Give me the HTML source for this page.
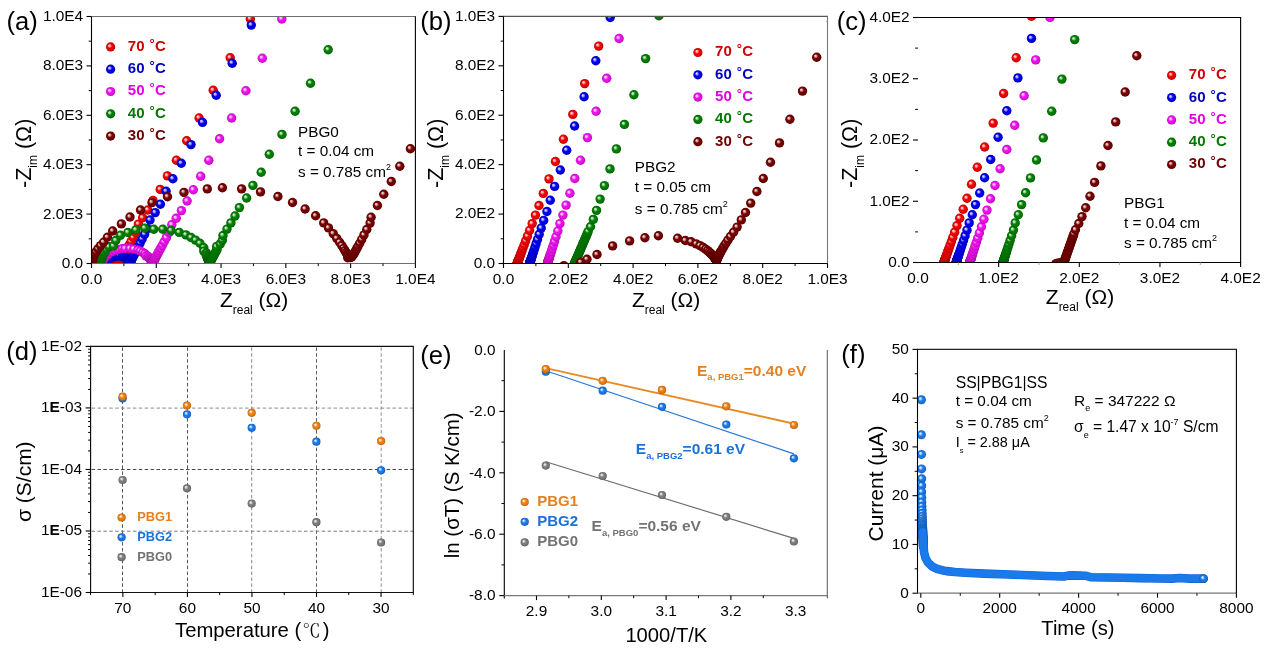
<!DOCTYPE html>
<html><head><meta charset="utf-8"><title>Figure</title>
<style>html,body{margin:0;padding:0;background:#fff;}svg{display:block;}text{font-family:'Liberation Sans',Arial,sans-serif;}</style>
</head><body>
<svg width="1269" height="648" viewBox="0 0 1269 648">
<defs><radialGradient id="gr" cx="0.5" cy="0.5" r="0.5" fx="0.34" fy="0.33"><stop offset="0" stop-color="#fef2f2"/><stop offset="0.24" stop-color="#fb9999"/><stop offset="0.48" stop-color="#f40000"/><stop offset="0.8" stop-color="#e50000"/><stop offset="1" stop-color="#ab0000"/></radialGradient><radialGradient id="gb" cx="0.5" cy="0.5" r="0.5" fx="0.34" fy="0.33"><stop offset="0" stop-color="#f2f2fe"/><stop offset="0.24" stop-color="#9999f9"/><stop offset="0.48" stop-color="#0000f0"/><stop offset="0.8" stop-color="#0000e2"/><stop offset="1" stop-color="#0000a8"/></radialGradient><radialGradient id="gm" cx="0.5" cy="0.5" r="0.5" fx="0.34" fy="0.33"><stop offset="0" stop-color="#fef3fe"/><stop offset="0.24" stop-color="#f99ff9"/><stop offset="0.48" stop-color="#f010f0"/><stop offset="0.8" stop-color="#e20fe2"/><stop offset="1" stop-color="#a80ba8"/></radialGradient><radialGradient id="gg" cx="0.5" cy="0.5" r="0.5" fx="0.34" fy="0.33"><stop offset="0" stop-color="#f2f9f2"/><stop offset="0.24" stop-color="#99cc99"/><stop offset="0.48" stop-color="#008000"/><stop offset="0.8" stop-color="#007800"/><stop offset="1" stop-color="#005a00"/></radialGradient><radialGradient id="gd" cx="0.5" cy="0.5" r="0.5" fx="0.34" fy="0.33"><stop offset="0" stop-color="#f8f2f2"/><stop offset="0.24" stop-color="#c99999"/><stop offset="0.48" stop-color="#780000"/><stop offset="0.8" stop-color="#710000"/><stop offset="1" stop-color="#540000"/></radialGradient><radialGradient id="go" cx="0.5" cy="0.5" r="0.5" fx="0.34" fy="0.33"><stop offset="0" stop-color="#fef9f3"/><stop offset="0.24" stop-color="#f9cc9f"/><stop offset="0.48" stop-color="#f08010"/><stop offset="0.8" stop-color="#e2780f"/><stop offset="1" stop-color="#a85a0b"/></radialGradient><radialGradient id="gu" cx="0.5" cy="0.5" r="0.5" fx="0.34" fy="0.33"><stop offset="0" stop-color="#f4f8fe"/><stop offset="0.24" stop-color="#a3caf7"/><stop offset="0.48" stop-color="#1a7aec"/><stop offset="0.8" stop-color="#1873de"/><stop offset="1" stop-color="#1255a5"/></radialGradient><radialGradient id="gy" cx="0.5" cy="0.5" r="0.5" fx="0.34" fy="0.33"><stop offset="0" stop-color="#f9f9f9"/><stop offset="0.24" stop-color="#cbcbcb"/><stop offset="0.48" stop-color="#7e7e7e"/><stop offset="0.8" stop-color="#767676"/><stop offset="1" stop-color="#585858"/></radialGradient><clipPath id="cA"><rect x="91.5" y="16.5" width="323.9" height="247"/></clipPath><clipPath id="cB"><rect x="503.5" y="16.4" width="324" height="247.1"/></clipPath><clipPath id="cC"><rect x="918" y="17.5" width="322.6" height="245"/></clipPath><clipPath id="cF"><rect x="917.5" y="349.4" width="318.9" height="243.8"/></clipPath></defs>
<rect width="1269" height="648" fill="#fff"/>
<g clip-path="url(#cA)">
<circle cx="105.14" cy="263.19" r="4.7" fill="url(#gr)"/>
<circle cx="105.2" cy="263.17" r="4.7" fill="url(#gr)"/>
<circle cx="105.26" cy="263.15" r="4.7" fill="url(#gr)"/>
<circle cx="105.33" cy="263.13" r="4.7" fill="url(#gr)"/>
<circle cx="105.4" cy="263.11" r="4.7" fill="url(#gr)"/>
<circle cx="105.47" cy="263.08" r="4.7" fill="url(#gr)"/>
<circle cx="105.55" cy="263.06" r="4.7" fill="url(#gr)"/>
<circle cx="105.64" cy="263.03" r="4.7" fill="url(#gr)"/>
<circle cx="105.73" cy="263" r="4.7" fill="url(#gr)"/>
<circle cx="105.82" cy="262.98" r="4.7" fill="url(#gr)"/>
<circle cx="105.92" cy="262.95" r="4.7" fill="url(#gr)"/>
<circle cx="106.03" cy="262.92" r="4.7" fill="url(#gr)"/>
<circle cx="106.14" cy="262.89" r="4.7" fill="url(#gr)"/>
<circle cx="106.26" cy="262.85" r="4.7" fill="url(#gr)"/>
<circle cx="106.38" cy="262.82" r="4.7" fill="url(#gr)"/>
<circle cx="106.51" cy="262.79" r="4.7" fill="url(#gr)"/>
<circle cx="106.65" cy="262.75" r="4.7" fill="url(#gr)"/>
<circle cx="106.8" cy="262.71" r="4.7" fill="url(#gr)"/>
<circle cx="106.95" cy="262.68" r="4.7" fill="url(#gr)"/>
<circle cx="107.11" cy="262.64" r="4.7" fill="url(#gr)"/>
<circle cx="107.28" cy="262.6" r="4.7" fill="url(#gr)"/>
<circle cx="107.46" cy="262.57" r="4.7" fill="url(#gr)"/>
<circle cx="107.64" cy="262.53" r="4.7" fill="url(#gr)"/>
<circle cx="107.83" cy="262.49" r="4.7" fill="url(#gr)"/>
<circle cx="108.03" cy="262.45" r="4.7" fill="url(#gr)"/>
<circle cx="108.24" cy="262.42" r="4.7" fill="url(#gr)"/>
<circle cx="108.45" cy="262.38" r="4.7" fill="url(#gr)"/>
<circle cx="108.67" cy="262.35" r="4.7" fill="url(#gr)"/>
<circle cx="108.9" cy="262.32" r="4.7" fill="url(#gr)"/>
<circle cx="109.14" cy="262.29" r="4.7" fill="url(#gr)"/>
<circle cx="109.38" cy="262.26" r="4.7" fill="url(#gr)"/>
<circle cx="109.63" cy="262.23" r="4.7" fill="url(#gr)"/>
<circle cx="109.88" cy="262.21" r="4.7" fill="url(#gr)"/>
<circle cx="110.14" cy="262.19" r="4.7" fill="url(#gr)"/>
<circle cx="110.4" cy="262.17" r="4.7" fill="url(#gr)"/>
<circle cx="110.67" cy="262.15" r="4.7" fill="url(#gr)"/>
<circle cx="110.94" cy="262.14" r="4.7" fill="url(#gr)"/>
<circle cx="111.21" cy="262.13" r="4.7" fill="url(#gr)"/>
<circle cx="111.49" cy="262.12" r="4.7" fill="url(#gr)"/>
<circle cx="111.76" cy="262.12" r="4.7" fill="url(#gr)"/>
<circle cx="112.04" cy="262.12" r="4.7" fill="url(#gr)"/>
<circle cx="112.31" cy="262.12" r="4.7" fill="url(#gr)"/>
<circle cx="112.59" cy="262.13" r="4.7" fill="url(#gr)"/>
<circle cx="112.86" cy="262.14" r="4.7" fill="url(#gr)"/>
<circle cx="113.13" cy="262.16" r="4.7" fill="url(#gr)"/>
<circle cx="113.39" cy="262.17" r="4.7" fill="url(#gr)"/>
<circle cx="113.65" cy="262.19" r="4.7" fill="url(#gr)"/>
<circle cx="113.91" cy="262.22" r="4.7" fill="url(#gr)"/>
<circle cx="114.16" cy="262.24" r="4.7" fill="url(#gr)"/>
<circle cx="114.4" cy="262.27" r="4.7" fill="url(#gr)"/>
<circle cx="114.64" cy="262.3" r="4.7" fill="url(#gr)"/>
<circle cx="114.87" cy="262.33" r="4.7" fill="url(#gr)"/>
<circle cx="115.1" cy="262.36" r="4.7" fill="url(#gr)"/>
<circle cx="115.32" cy="262.39" r="4.7" fill="url(#gr)"/>
<circle cx="115.53" cy="262.43" r="4.7" fill="url(#gr)"/>
<circle cx="115.73" cy="262.46" r="4.7" fill="url(#gr)"/>
<circle cx="115.93" cy="262.49" r="4.7" fill="url(#gr)"/>
<circle cx="116.12" cy="262.53" r="4.7" fill="url(#gr)"/>
<circle cx="116.3" cy="262.56" r="4.7" fill="url(#gr)"/>
<circle cx="116.47" cy="262.59" r="4.7" fill="url(#gr)"/>
<circle cx="116.64" cy="262.62" r="4.7" fill="url(#gr)"/>
<circle cx="116.8" cy="262.65" r="4.7" fill="url(#gr)"/>
<circle cx="116.95" cy="262.68" r="4.7" fill="url(#gr)"/>
<circle cx="117.1" cy="262.71" r="4.7" fill="url(#gr)"/>
<circle cx="117.24" cy="262.73" r="4.7" fill="url(#gr)"/>
<circle cx="117.38" cy="262.75" r="4.7" fill="url(#gr)"/>
<circle cx="117.51" cy="262.77" r="4.7" fill="url(#gr)"/>
<circle cx="117.63" cy="262.78" r="4.7" fill="url(#gr)"/>
<circle cx="117.75" cy="262.79" r="4.7" fill="url(#gr)"/>
<circle cx="117.87" cy="262.79" r="4.7" fill="url(#gr)"/>
<circle cx="117.99" cy="262.79" r="4.7" fill="url(#gr)"/>
<circle cx="118.1" cy="262.77" r="4.7" fill="url(#gr)"/>
<circle cx="118.21" cy="262.75" r="4.7" fill="url(#gr)"/>
<circle cx="118.32" cy="262.72" r="4.7" fill="url(#gr)"/>
<circle cx="118.43" cy="262.68" r="4.7" fill="url(#gr)"/>
<circle cx="118.55" cy="262.63" r="4.7" fill="url(#gr)"/>
<circle cx="118.67" cy="262.56" r="4.7" fill="url(#gr)"/>
<circle cx="118.79" cy="262.47" r="4.7" fill="url(#gr)"/>
<circle cx="118.92" cy="262.36" r="4.7" fill="url(#gr)"/>
<circle cx="119.06" cy="262.22" r="4.7" fill="url(#gr)"/>
<circle cx="119.22" cy="262.06" r="4.7" fill="url(#gr)"/>
<circle cx="119.38" cy="261.85" r="4.7" fill="url(#gr)"/>
<circle cx="119.57" cy="261.61" r="4.7" fill="url(#gr)"/>
<circle cx="119.78" cy="261.32" r="4.7" fill="url(#gr)"/>
<circle cx="120.03" cy="260.96" r="4.7" fill="url(#gr)"/>
<circle cx="120.3" cy="260.54" r="4.7" fill="url(#gr)"/>
<circle cx="120.62" cy="260.03" r="4.7" fill="url(#gr)"/>
<circle cx="120.99" cy="259.43" r="4.7" fill="url(#gr)"/>
<circle cx="121.42" cy="258.71" r="4.7" fill="url(#gr)"/>
<circle cx="121.92" cy="257.85" r="4.7" fill="url(#gr)"/>
<circle cx="122.52" cy="256.82" r="4.7" fill="url(#gr)"/>
<circle cx="123.21" cy="255.6" r="4.7" fill="url(#gr)"/>
<circle cx="124.03" cy="254.15" r="4.7" fill="url(#gr)"/>
<circle cx="125" cy="252.42" r="4.7" fill="url(#gr)"/>
<circle cx="126.14" cy="250.36" r="4.7" fill="url(#gr)"/>
<circle cx="127.5" cy="247.92" r="4.7" fill="url(#gr)"/>
<circle cx="129.1" cy="245.01" r="4.7" fill="url(#gr)"/>
<circle cx="131.01" cy="241.55" r="4.7" fill="url(#gr)"/>
<circle cx="133.27" cy="237.45" r="4.7" fill="url(#gr)"/>
<circle cx="135.94" cy="232.56" r="4.7" fill="url(#gr)"/>
<circle cx="138.4" cy="224.1" r="4.7" fill="url(#gr)"/>
<circle cx="142.6" cy="217.8" r="4.7" fill="url(#gr)"/>
<circle cx="147.8" cy="210" r="4.7" fill="url(#gr)"/>
<circle cx="153" cy="200.5" r="4.7" fill="url(#gr)"/>
<circle cx="160.2" cy="189.4" r="4.7" fill="url(#gr)"/>
<circle cx="167.4" cy="175.9" r="4.7" fill="url(#gr)"/>
<circle cx="176.4" cy="160.2" r="4.7" fill="url(#gr)"/>
<circle cx="186.7" cy="140.8" r="4.7" fill="url(#gr)"/>
<circle cx="199.1" cy="118" r="4.7" fill="url(#gr)"/>
<circle cx="213.2" cy="90.3" r="4.7" fill="url(#gr)"/>
<circle cx="230.2" cy="57.8" r="4.7" fill="url(#gr)"/>
<circle cx="250.3" cy="19" r="4.7" fill="url(#gr)"/>
<circle cx="105.78" cy="263.5" r="4.7" fill="url(#gb)"/>
<circle cx="105.78" cy="263.5" r="4.7" fill="url(#gb)"/>
<circle cx="105.78" cy="263.5" r="4.7" fill="url(#gb)"/>
<circle cx="105.78" cy="263.5" r="4.7" fill="url(#gb)"/>
<circle cx="105.78" cy="263.5" r="4.7" fill="url(#gb)"/>
<circle cx="105.78" cy="263.5" r="4.7" fill="url(#gb)"/>
<circle cx="105.78" cy="263.5" r="4.7" fill="url(#gb)"/>
<circle cx="105.78" cy="263.5" r="4.7" fill="url(#gb)"/>
<circle cx="105.78" cy="263.5" r="4.7" fill="url(#gb)"/>
<circle cx="105.78" cy="263.5" r="4.7" fill="url(#gb)"/>
<circle cx="105.78" cy="263.5" r="4.7" fill="url(#gb)"/>
<circle cx="105.78" cy="263.5" r="4.7" fill="url(#gb)"/>
<circle cx="105.78" cy="263.5" r="4.7" fill="url(#gb)"/>
<circle cx="105.78" cy="263.5" r="4.7" fill="url(#gb)"/>
<circle cx="105.78" cy="263.5" r="4.7" fill="url(#gb)"/>
<circle cx="105.78" cy="263.5" r="4.7" fill="url(#gb)"/>
<circle cx="105.78" cy="263.5" r="4.7" fill="url(#gb)"/>
<circle cx="105.78" cy="263.5" r="4.7" fill="url(#gb)"/>
<circle cx="105.78" cy="263.5" r="4.7" fill="url(#gb)"/>
<circle cx="105.78" cy="263.5" r="4.7" fill="url(#gb)"/>
<circle cx="105.78" cy="263.5" r="4.7" fill="url(#gb)"/>
<circle cx="105.78" cy="263.5" r="4.7" fill="url(#gb)"/>
<circle cx="105.78" cy="263.5" r="4.7" fill="url(#gb)"/>
<circle cx="105.78" cy="263.5" r="4.7" fill="url(#gb)"/>
<circle cx="105.78" cy="263.5" r="4.7" fill="url(#gb)"/>
<circle cx="105.78" cy="263.5" r="4.7" fill="url(#gb)"/>
<circle cx="105.78" cy="263.5" r="4.7" fill="url(#gb)"/>
<circle cx="105.78" cy="263.5" r="4.7" fill="url(#gb)"/>
<circle cx="105.78" cy="263.5" r="4.7" fill="url(#gb)"/>
<circle cx="105.78" cy="263.5" r="4.7" fill="url(#gb)"/>
<circle cx="105.78" cy="263.5" r="4.7" fill="url(#gb)"/>
<circle cx="105.78" cy="263.5" r="4.7" fill="url(#gb)"/>
<circle cx="105.78" cy="263.5" r="4.7" fill="url(#gb)"/>
<circle cx="105.78" cy="263.5" r="4.7" fill="url(#gb)"/>
<circle cx="105.78" cy="263.5" r="4.7" fill="url(#gb)"/>
<circle cx="105.78" cy="263.49" r="4.7" fill="url(#gb)"/>
<circle cx="105.78" cy="263.49" r="4.7" fill="url(#gb)"/>
<circle cx="105.78" cy="263.49" r="4.7" fill="url(#gb)"/>
<circle cx="105.79" cy="263.49" r="4.7" fill="url(#gb)"/>
<circle cx="105.79" cy="263.49" r="4.7" fill="url(#gb)"/>
<circle cx="105.79" cy="263.49" r="4.7" fill="url(#gb)"/>
<circle cx="105.79" cy="263.48" r="4.7" fill="url(#gb)"/>
<circle cx="105.79" cy="263.48" r="4.7" fill="url(#gb)"/>
<circle cx="105.79" cy="263.47" r="4.7" fill="url(#gb)"/>
<circle cx="105.79" cy="263.47" r="4.7" fill="url(#gb)"/>
<circle cx="105.79" cy="263.46" r="4.7" fill="url(#gb)"/>
<circle cx="105.79" cy="263.45" r="4.7" fill="url(#gb)"/>
<circle cx="105.8" cy="263.44" r="4.7" fill="url(#gb)"/>
<circle cx="105.8" cy="263.43" r="4.7" fill="url(#gb)"/>
<circle cx="105.8" cy="263.41" r="4.7" fill="url(#gb)"/>
<circle cx="105.81" cy="263.39" r="4.7" fill="url(#gb)"/>
<circle cx="105.82" cy="263.36" r="4.7" fill="url(#gb)"/>
<circle cx="105.82" cy="263.33" r="4.7" fill="url(#gb)"/>
<circle cx="105.83" cy="263.29" r="4.7" fill="url(#gb)"/>
<circle cx="105.85" cy="263.24" r="4.7" fill="url(#gb)"/>
<circle cx="105.86" cy="263.19" r="4.7" fill="url(#gb)"/>
<circle cx="105.88" cy="263.12" r="4.7" fill="url(#gb)"/>
<circle cx="105.91" cy="263.03" r="4.7" fill="url(#gb)"/>
<circle cx="105.94" cy="262.92" r="4.7" fill="url(#gb)"/>
<circle cx="105.98" cy="262.79" r="4.7" fill="url(#gb)"/>
<circle cx="106.03" cy="262.64" r="4.7" fill="url(#gb)"/>
<circle cx="106.1" cy="262.44" r="4.7" fill="url(#gb)"/>
<circle cx="106.2" cy="262.21" r="4.7" fill="url(#gb)"/>
<circle cx="106.33" cy="261.93" r="4.7" fill="url(#gb)"/>
<circle cx="106.49" cy="261.59" r="4.7" fill="url(#gb)"/>
<circle cx="106.72" cy="261.19" r="4.7" fill="url(#gb)"/>
<circle cx="107.03" cy="260.72" r="4.7" fill="url(#gb)"/>
<circle cx="107.45" cy="260.17" r="4.7" fill="url(#gb)"/>
<circle cx="108.01" cy="259.54" r="4.7" fill="url(#gb)"/>
<circle cx="108.76" cy="258.85" r="4.7" fill="url(#gb)"/>
<circle cx="109.73" cy="258.12" r="4.7" fill="url(#gb)"/>
<circle cx="110.98" cy="257.39" r="4.7" fill="url(#gb)"/>
<circle cx="113" cy="257" r="4.7" fill="url(#gb)"/>
<circle cx="114.31" cy="256.21" r="4.7" fill="url(#gb)"/>
<circle cx="116.3" cy="255.9" r="4.7" fill="url(#gb)"/>
<circle cx="118.39" cy="255.85" r="4.7" fill="url(#gb)"/>
<circle cx="120" cy="256" r="4.7" fill="url(#gb)"/>
<circle cx="122.3" cy="256.53" r="4.7" fill="url(#gb)"/>
<circle cx="123.93" cy="257.16" r="4.7" fill="url(#gb)"/>
<circle cx="125.27" cy="257.87" r="4.7" fill="url(#gb)"/>
<circle cx="126.33" cy="258.6" r="4.7" fill="url(#gb)"/>
<circle cx="127.15" cy="259.31" r="4.7" fill="url(#gb)"/>
<circle cx="127.77" cy="259.96" r="4.7" fill="url(#gb)"/>
<circle cx="128.23" cy="260.53" r="4.7" fill="url(#gb)"/>
<circle cx="128.58" cy="261.03" r="4.7" fill="url(#gb)"/>
<circle cx="128.83" cy="261.45" r="4.7" fill="url(#gb)"/>
<circle cx="129.02" cy="261.8" r="4.7" fill="url(#gb)"/>
<circle cx="129.16" cy="262.1" r="4.7" fill="url(#gb)"/>
<circle cx="129.27" cy="262.34" r="4.7" fill="url(#gb)"/>
<circle cx="129.35" cy="262.54" r="4.7" fill="url(#gb)"/>
<circle cx="129.41" cy="262.7" r="4.7" fill="url(#gb)"/>
<circle cx="129.46" cy="262.83" r="4.7" fill="url(#gb)"/>
<circle cx="129.5" cy="262.93" r="4.7" fill="url(#gb)"/>
<circle cx="129.53" cy="263.01" r="4.7" fill="url(#gb)"/>
<circle cx="129.56" cy="263.08" r="4.7" fill="url(#gb)"/>
<circle cx="129.59" cy="263.12" r="4.7" fill="url(#gb)"/>
<circle cx="129.61" cy="263.15" r="4.7" fill="url(#gb)"/>
<circle cx="129.63" cy="263.17" r="4.7" fill="url(#gb)"/>
<circle cx="129.66" cy="263.17" r="4.7" fill="url(#gb)"/>
<circle cx="129.68" cy="263.16" r="4.7" fill="url(#gb)"/>
<circle cx="129.71" cy="263.15" r="4.7" fill="url(#gb)"/>
<circle cx="129.74" cy="263.12" r="4.7" fill="url(#gb)"/>
<circle cx="129.77" cy="263.07" r="4.7" fill="url(#gb)"/>
<circle cx="129.81" cy="263.01" r="4.7" fill="url(#gb)"/>
<circle cx="129.86" cy="262.94" r="4.7" fill="url(#gb)"/>
<circle cx="129.91" cy="262.85" r="4.7" fill="url(#gb)"/>
<circle cx="129.97" cy="262.74" r="4.7" fill="url(#gb)"/>
<circle cx="130.04" cy="262.6" r="4.7" fill="url(#gb)"/>
<circle cx="130.13" cy="262.44" r="4.7" fill="url(#gb)"/>
<circle cx="130.24" cy="262.24" r="4.7" fill="url(#gb)"/>
<circle cx="130.36" cy="262.01" r="4.7" fill="url(#gb)"/>
<circle cx="130.51" cy="261.73" r="4.7" fill="url(#gb)"/>
<circle cx="130.68" cy="261.39" r="4.7" fill="url(#gb)"/>
<circle cx="130.89" cy="260.99" r="4.7" fill="url(#gb)"/>
<circle cx="131.13" cy="260.51" r="4.7" fill="url(#gb)"/>
<circle cx="131.43" cy="259.94" r="4.7" fill="url(#gb)"/>
<circle cx="131.78" cy="259.26" r="4.7" fill="url(#gb)"/>
<circle cx="132.2" cy="258.45" r="4.7" fill="url(#gb)"/>
<circle cx="132.7" cy="257.48" r="4.7" fill="url(#gb)"/>
<circle cx="133.29" cy="256.33" r="4.7" fill="url(#gb)"/>
<circle cx="134" cy="254.96" r="4.7" fill="url(#gb)"/>
<circle cx="134.84" cy="253.32" r="4.7" fill="url(#gb)"/>
<circle cx="135.85" cy="251.37" r="4.7" fill="url(#gb)"/>
<circle cx="137.04" cy="249.05" r="4.7" fill="url(#gb)"/>
<circle cx="138.47" cy="246.28" r="4.7" fill="url(#gb)"/>
<circle cx="140.17" cy="242.97" r="4.7" fill="url(#gb)"/>
<circle cx="142.2" cy="239.04" r="4.7" fill="url(#gb)"/>
<circle cx="144.61" cy="234.35" r="4.7" fill="url(#gb)"/>
<circle cx="147.49" cy="228.76" r="4.7" fill="url(#gb)"/>
<circle cx="150" cy="220" r="4.7" fill="url(#gb)"/>
<circle cx="155.2" cy="212.6" r="4.7" fill="url(#gb)"/>
<circle cx="160.4" cy="204.2" r="4.7" fill="url(#gb)"/>
<circle cx="166.1" cy="191.3" r="4.7" fill="url(#gb)"/>
<circle cx="172.9" cy="178.8" r="4.7" fill="url(#gb)"/>
<circle cx="181.3" cy="163.3" r="4.7" fill="url(#gb)"/>
<circle cx="191" cy="144.6" r="4.7" fill="url(#gb)"/>
<circle cx="202.5" cy="122.4" r="4.7" fill="url(#gb)"/>
<circle cx="216.2" cy="95.3" r="4.7" fill="url(#gb)"/>
<circle cx="232.2" cy="63.2" r="4.7" fill="url(#gb)"/>
<circle cx="251.3" cy="25.1" r="4.7" fill="url(#gb)"/>
<circle cx="101.36" cy="263.5" r="4.7" fill="url(#gm)"/>
<circle cx="101.36" cy="263.5" r="4.7" fill="url(#gm)"/>
<circle cx="101.36" cy="263.5" r="4.7" fill="url(#gm)"/>
<circle cx="101.36" cy="263.5" r="4.7" fill="url(#gm)"/>
<circle cx="101.36" cy="263.5" r="4.7" fill="url(#gm)"/>
<circle cx="101.36" cy="263.5" r="4.7" fill="url(#gm)"/>
<circle cx="101.36" cy="263.5" r="4.7" fill="url(#gm)"/>
<circle cx="101.36" cy="263.5" r="4.7" fill="url(#gm)"/>
<circle cx="101.36" cy="263.5" r="4.7" fill="url(#gm)"/>
<circle cx="101.36" cy="263.5" r="4.7" fill="url(#gm)"/>
<circle cx="101.36" cy="263.5" r="4.7" fill="url(#gm)"/>
<circle cx="101.36" cy="263.5" r="4.7" fill="url(#gm)"/>
<circle cx="101.36" cy="263.5" r="4.7" fill="url(#gm)"/>
<circle cx="101.36" cy="263.5" r="4.7" fill="url(#gm)"/>
<circle cx="101.36" cy="263.5" r="4.7" fill="url(#gm)"/>
<circle cx="101.36" cy="263.49" r="4.7" fill="url(#gm)"/>
<circle cx="101.36" cy="263.49" r="4.7" fill="url(#gm)"/>
<circle cx="101.36" cy="263.49" r="4.7" fill="url(#gm)"/>
<circle cx="101.36" cy="263.49" r="4.7" fill="url(#gm)"/>
<circle cx="101.36" cy="263.49" r="4.7" fill="url(#gm)"/>
<circle cx="101.36" cy="263.48" r="4.7" fill="url(#gm)"/>
<circle cx="101.37" cy="263.48" r="4.7" fill="url(#gm)"/>
<circle cx="101.37" cy="263.48" r="4.7" fill="url(#gm)"/>
<circle cx="101.37" cy="263.47" r="4.7" fill="url(#gm)"/>
<circle cx="101.37" cy="263.47" r="4.7" fill="url(#gm)"/>
<circle cx="101.37" cy="263.46" r="4.7" fill="url(#gm)"/>
<circle cx="101.38" cy="263.45" r="4.7" fill="url(#gm)"/>
<circle cx="101.38" cy="263.44" r="4.7" fill="url(#gm)"/>
<circle cx="101.38" cy="263.43" r="4.7" fill="url(#gm)"/>
<circle cx="101.39" cy="263.41" r="4.7" fill="url(#gm)"/>
<circle cx="101.4" cy="263.39" r="4.7" fill="url(#gm)"/>
<circle cx="101.4" cy="263.37" r="4.7" fill="url(#gm)"/>
<circle cx="101.41" cy="263.34" r="4.7" fill="url(#gm)"/>
<circle cx="101.43" cy="263.31" r="4.7" fill="url(#gm)"/>
<circle cx="101.44" cy="263.27" r="4.7" fill="url(#gm)"/>
<circle cx="101.46" cy="263.22" r="4.7" fill="url(#gm)"/>
<circle cx="101.48" cy="263.15" r="4.7" fill="url(#gm)"/>
<circle cx="101.51" cy="263.08" r="4.7" fill="url(#gm)"/>
<circle cx="101.54" cy="262.99" r="4.7" fill="url(#gm)"/>
<circle cx="101.58" cy="262.88" r="4.7" fill="url(#gm)"/>
<circle cx="101.63" cy="262.75" r="4.7" fill="url(#gm)"/>
<circle cx="101.69" cy="262.6" r="4.7" fill="url(#gm)"/>
<circle cx="101.77" cy="262.41" r="4.7" fill="url(#gm)"/>
<circle cx="101.87" cy="262.18" r="4.7" fill="url(#gm)"/>
<circle cx="101.99" cy="261.9" r="4.7" fill="url(#gm)"/>
<circle cx="102.14" cy="261.57" r="4.7" fill="url(#gm)"/>
<circle cx="102.34" cy="261.18" r="4.7" fill="url(#gm)"/>
<circle cx="102.59" cy="260.7" r="4.7" fill="url(#gm)"/>
<circle cx="102.91" cy="260.14" r="4.7" fill="url(#gm)"/>
<circle cx="103.33" cy="259.48" r="4.7" fill="url(#gm)"/>
<circle cx="103.87" cy="258.7" r="4.7" fill="url(#gm)"/>
<circle cx="104.56" cy="257.8" r="4.7" fill="url(#gm)"/>
<circle cx="105.47" cy="256.77" r="4.7" fill="url(#gm)"/>
<circle cx="106.64" cy="255.62" r="4.7" fill="url(#gm)"/>
<circle cx="108.14" cy="254.36" r="4.7" fill="url(#gm)"/>
<circle cx="110" cy="252" r="4.7" fill="url(#gm)"/>
<circle cx="112.37" cy="251.71" r="4.7" fill="url(#gm)"/>
<circle cx="115.19" cy="250.47" r="4.7" fill="url(#gm)"/>
<circle cx="118.47" cy="249.43" r="4.7" fill="url(#gm)"/>
<circle cx="122.14" cy="248.71" r="4.7" fill="url(#gm)"/>
<circle cx="125" cy="248.5" r="4.7" fill="url(#gm)"/>
<circle cx="129.98" cy="248.52" r="4.7" fill="url(#gm)"/>
<circle cx="133.77" cy="249.08" r="4.7" fill="url(#gm)"/>
<circle cx="138" cy="250" r="4.7" fill="url(#gm)"/>
<circle cx="140.26" cy="251.16" r="4.7" fill="url(#gm)"/>
<circle cx="142.8" cy="252.46" r="4.7" fill="url(#gm)"/>
<circle cx="144.88" cy="253.79" r="4.7" fill="url(#gm)"/>
<circle cx="146" cy="256" r="4.7" fill="url(#gm)"/>
<circle cx="147.84" cy="256.29" r="4.7" fill="url(#gm)"/>
<circle cx="148.85" cy="257.37" r="4.7" fill="url(#gm)"/>
<circle cx="149.64" cy="258.33" r="4.7" fill="url(#gm)"/>
<circle cx="150.24" cy="259.16" r="4.7" fill="url(#gm)"/>
<circle cx="150.7" cy="259.87" r="4.7" fill="url(#gm)"/>
<circle cx="151.06" cy="260.47" r="4.7" fill="url(#gm)"/>
<circle cx="151.34" cy="260.98" r="4.7" fill="url(#gm)"/>
<circle cx="151.56" cy="261.41" r="4.7" fill="url(#gm)"/>
<circle cx="151.73" cy="261.77" r="4.7" fill="url(#gm)"/>
<circle cx="151.87" cy="262.07" r="4.7" fill="url(#gm)"/>
<circle cx="151.97" cy="262.31" r="4.7" fill="url(#gm)"/>
<circle cx="152.06" cy="262.52" r="4.7" fill="url(#gm)"/>
<circle cx="152.13" cy="262.69" r="4.7" fill="url(#gm)"/>
<circle cx="152.18" cy="262.83" r="4.7" fill="url(#gm)"/>
<circle cx="152.22" cy="262.95" r="4.7" fill="url(#gm)"/>
<circle cx="152.26" cy="263.04" r="4.7" fill="url(#gm)"/>
<circle cx="152.29" cy="263.12" r="4.7" fill="url(#gm)"/>
<circle cx="152.31" cy="263.19" r="4.7" fill="url(#gm)"/>
<circle cx="152.33" cy="263.24" r="4.7" fill="url(#gm)"/>
<circle cx="152.35" cy="263.29" r="4.7" fill="url(#gm)"/>
<circle cx="152.36" cy="263.33" r="4.7" fill="url(#gm)"/>
<circle cx="152.37" cy="263.36" r="4.7" fill="url(#gm)"/>
<circle cx="152.38" cy="263.38" r="4.7" fill="url(#gm)"/>
<circle cx="152.39" cy="263.4" r="4.7" fill="url(#gm)"/>
<circle cx="152.39" cy="263.42" r="4.7" fill="url(#gm)"/>
<circle cx="152.4" cy="263.43" r="4.7" fill="url(#gm)"/>
<circle cx="152.4" cy="263.45" r="4.7" fill="url(#gm)"/>
<circle cx="152.41" cy="263.45" r="4.7" fill="url(#gm)"/>
<circle cx="152.41" cy="263.46" r="4.7" fill="url(#gm)"/>
<circle cx="152.41" cy="263.47" r="4.7" fill="url(#gm)"/>
<circle cx="152.41" cy="263.47" r="4.7" fill="url(#gm)"/>
<circle cx="152.41" cy="263.48" r="4.7" fill="url(#gm)"/>
<circle cx="152.42" cy="263.48" r="4.7" fill="url(#gm)"/>
<circle cx="152.42" cy="263.48" r="4.7" fill="url(#gm)"/>
<circle cx="152.42" cy="263.49" r="4.7" fill="url(#gm)"/>
<circle cx="152.42" cy="263.49" r="4.7" fill="url(#gm)"/>
<circle cx="152.42" cy="263.49" r="4.7" fill="url(#gm)"/>
<circle cx="152.42" cy="263.49" r="4.7" fill="url(#gm)"/>
<circle cx="152.42" cy="263.49" r="4.7" fill="url(#gm)"/>
<circle cx="152.42" cy="263.49" r="4.7" fill="url(#gm)"/>
<circle cx="152.42" cy="263.49" r="4.7" fill="url(#gm)"/>
<circle cx="152.42" cy="263.49" r="4.7" fill="url(#gm)"/>
<circle cx="152.42" cy="263.49" r="4.7" fill="url(#gm)"/>
<circle cx="152.42" cy="263.49" r="4.7" fill="url(#gm)"/>
<circle cx="152.42" cy="263.49" r="4.7" fill="url(#gm)"/>
<circle cx="152.42" cy="263.49" r="4.7" fill="url(#gm)"/>
<circle cx="152.43" cy="263.49" r="4.7" fill="url(#gm)"/>
<circle cx="152.43" cy="263.49" r="4.7" fill="url(#gm)"/>
<circle cx="152.43" cy="263.48" r="4.7" fill="url(#gm)"/>
<circle cx="152.43" cy="263.48" r="4.7" fill="url(#gm)"/>
<circle cx="152.43" cy="263.48" r="4.7" fill="url(#gm)"/>
<circle cx="152.43" cy="263.47" r="4.7" fill="url(#gm)"/>
<circle cx="152.44" cy="263.47" r="4.7" fill="url(#gm)"/>
<circle cx="152.44" cy="263.46" r="4.7" fill="url(#gm)"/>
<circle cx="152.44" cy="263.46" r="4.7" fill="url(#gm)"/>
<circle cx="152.45" cy="263.45" r="4.7" fill="url(#gm)"/>
<circle cx="152.45" cy="263.44" r="4.7" fill="url(#gm)"/>
<circle cx="152.46" cy="263.43" r="4.7" fill="url(#gm)"/>
<circle cx="152.47" cy="263.41" r="4.7" fill="url(#gm)"/>
<circle cx="152.48" cy="263.4" r="4.7" fill="url(#gm)"/>
<circle cx="152.49" cy="263.38" r="4.7" fill="url(#gm)"/>
<circle cx="152.5" cy="263.36" r="4.7" fill="url(#gm)"/>
<circle cx="152.51" cy="263.33" r="4.7" fill="url(#gm)"/>
<circle cx="152.53" cy="263.3" r="4.7" fill="url(#gm)"/>
<circle cx="152.55" cy="263.26" r="4.7" fill="url(#gm)"/>
<circle cx="152.58" cy="263.21" r="4.7" fill="url(#gm)"/>
<circle cx="152.61" cy="263.16" r="4.7" fill="url(#gm)"/>
<circle cx="152.64" cy="263.09" r="4.7" fill="url(#gm)"/>
<circle cx="152.68" cy="263.02" r="4.7" fill="url(#gm)"/>
<circle cx="152.73" cy="262.92" r="4.7" fill="url(#gm)"/>
<circle cx="152.79" cy="262.81" r="4.7" fill="url(#gm)"/>
<circle cx="152.86" cy="262.69" r="4.7" fill="url(#gm)"/>
<circle cx="152.94" cy="262.53" r="4.7" fill="url(#gm)"/>
<circle cx="153.04" cy="262.35" r="4.7" fill="url(#gm)"/>
<circle cx="153.16" cy="262.13" r="4.7" fill="url(#gm)"/>
<circle cx="153.3" cy="261.87" r="4.7" fill="url(#gm)"/>
<circle cx="153.47" cy="261.57" r="4.7" fill="url(#gm)"/>
<circle cx="153.66" cy="261.2" r="4.7" fill="url(#gm)"/>
<circle cx="153.9" cy="260.77" r="4.7" fill="url(#gm)"/>
<circle cx="154.18" cy="260.25" r="4.7" fill="url(#gm)"/>
<circle cx="154.51" cy="259.64" r="4.7" fill="url(#gm)"/>
<circle cx="154.9" cy="258.91" r="4.7" fill="url(#gm)"/>
<circle cx="155.37" cy="258.04" r="4.7" fill="url(#gm)"/>
<circle cx="155.93" cy="257.01" r="4.7" fill="url(#gm)"/>
<circle cx="156.59" cy="255.79" r="4.7" fill="url(#gm)"/>
<circle cx="157.38" cy="254.33" r="4.7" fill="url(#gm)"/>
<circle cx="158.31" cy="252.6" r="4.7" fill="url(#gm)"/>
<circle cx="159.43" cy="250.55" r="4.7" fill="url(#gm)"/>
<circle cx="160.75" cy="248.1" r="4.7" fill="url(#gm)"/>
<circle cx="162.32" cy="245.2" r="4.7" fill="url(#gm)"/>
<circle cx="164.19" cy="241.74" r="4.7" fill="url(#gm)"/>
<circle cx="166.41" cy="237.63" r="4.7" fill="url(#gm)"/>
<circle cx="169.05" cy="232.75" r="4.7" fill="url(#gm)"/>
<circle cx="171.8" cy="224.7" r="4.7" fill="url(#gm)"/>
<circle cx="176.2" cy="218.3" r="4.7" fill="url(#gm)"/>
<circle cx="181.4" cy="210.6" r="4.7" fill="url(#gm)"/>
<circle cx="187.1" cy="201" r="4.7" fill="url(#gm)"/>
<circle cx="193.3" cy="189.7" r="4.7" fill="url(#gm)"/>
<circle cx="200.7" cy="176.2" r="4.7" fill="url(#gm)"/>
<circle cx="208.8" cy="160.2" r="4.7" fill="url(#gm)"/>
<circle cx="219.6" cy="138.8" r="4.7" fill="url(#gm)"/>
<circle cx="231.6" cy="118" r="4.7" fill="url(#gm)"/>
<circle cx="245.9" cy="90.7" r="4.7" fill="url(#gm)"/>
<circle cx="262.3" cy="58.2" r="4.7" fill="url(#gm)"/>
<circle cx="281.8" cy="19" r="4.7" fill="url(#gm)"/>
<circle cx="99.96" cy="263.5" r="4.7" fill="url(#gg)"/>
<circle cx="99.96" cy="263.5" r="4.7" fill="url(#gg)"/>
<circle cx="99.96" cy="263.5" r="4.7" fill="url(#gg)"/>
<circle cx="99.96" cy="263.5" r="4.7" fill="url(#gg)"/>
<circle cx="99.96" cy="263.5" r="4.7" fill="url(#gg)"/>
<circle cx="99.96" cy="263.5" r="4.7" fill="url(#gg)"/>
<circle cx="99.96" cy="263.5" r="4.7" fill="url(#gg)"/>
<circle cx="99.96" cy="263.5" r="4.7" fill="url(#gg)"/>
<circle cx="99.96" cy="263.5" r="4.7" fill="url(#gg)"/>
<circle cx="99.96" cy="263.5" r="4.7" fill="url(#gg)"/>
<circle cx="99.96" cy="263.5" r="4.7" fill="url(#gg)"/>
<circle cx="99.96" cy="263.5" r="4.7" fill="url(#gg)"/>
<circle cx="99.96" cy="263.5" r="4.7" fill="url(#gg)"/>
<circle cx="99.96" cy="263.5" r="4.7" fill="url(#gg)"/>
<circle cx="99.96" cy="263.5" r="4.7" fill="url(#gg)"/>
<circle cx="99.96" cy="263.5" r="4.7" fill="url(#gg)"/>
<circle cx="99.96" cy="263.5" r="4.7" fill="url(#gg)"/>
<circle cx="99.96" cy="263.5" r="4.7" fill="url(#gg)"/>
<circle cx="99.96" cy="263.5" r="4.7" fill="url(#gg)"/>
<circle cx="99.96" cy="263.5" r="4.7" fill="url(#gg)"/>
<circle cx="99.96" cy="263.5" r="4.7" fill="url(#gg)"/>
<circle cx="99.96" cy="263.5" r="4.7" fill="url(#gg)"/>
<circle cx="99.96" cy="263.5" r="4.7" fill="url(#gg)"/>
<circle cx="99.96" cy="263.5" r="4.7" fill="url(#gg)"/>
<circle cx="99.96" cy="263.5" r="4.7" fill="url(#gg)"/>
<circle cx="99.96" cy="263.5" r="4.7" fill="url(#gg)"/>
<circle cx="99.96" cy="263.5" r="4.7" fill="url(#gg)"/>
<circle cx="99.96" cy="263.5" r="4.7" fill="url(#gg)"/>
<circle cx="99.96" cy="263.5" r="4.7" fill="url(#gg)"/>
<circle cx="99.96" cy="263.5" r="4.7" fill="url(#gg)"/>
<circle cx="99.96" cy="263.5" r="4.7" fill="url(#gg)"/>
<circle cx="99.96" cy="263.5" r="4.7" fill="url(#gg)"/>
<circle cx="99.96" cy="263.5" r="4.7" fill="url(#gg)"/>
<circle cx="99.96" cy="263.5" r="4.7" fill="url(#gg)"/>
<circle cx="99.96" cy="263.5" r="4.7" fill="url(#gg)"/>
<circle cx="99.96" cy="263.5" r="4.7" fill="url(#gg)"/>
<circle cx="99.96" cy="263.5" r="4.7" fill="url(#gg)"/>
<circle cx="99.96" cy="263.5" r="4.7" fill="url(#gg)"/>
<circle cx="99.96" cy="263.5" r="4.7" fill="url(#gg)"/>
<circle cx="99.96" cy="263.49" r="4.7" fill="url(#gg)"/>
<circle cx="99.96" cy="263.49" r="4.7" fill="url(#gg)"/>
<circle cx="99.96" cy="263.49" r="4.7" fill="url(#gg)"/>
<circle cx="99.96" cy="263.49" r="4.7" fill="url(#gg)"/>
<circle cx="99.97" cy="263.49" r="4.7" fill="url(#gg)"/>
<circle cx="99.97" cy="263.49" r="4.7" fill="url(#gg)"/>
<circle cx="99.97" cy="263.48" r="4.7" fill="url(#gg)"/>
<circle cx="99.97" cy="263.48" r="4.7" fill="url(#gg)"/>
<circle cx="99.97" cy="263.47" r="4.7" fill="url(#gg)"/>
<circle cx="99.97" cy="263.47" r="4.7" fill="url(#gg)"/>
<circle cx="99.97" cy="263.46" r="4.7" fill="url(#gg)"/>
<circle cx="99.97" cy="263.45" r="4.7" fill="url(#gg)"/>
<circle cx="99.98" cy="263.44" r="4.7" fill="url(#gg)"/>
<circle cx="99.98" cy="263.43" r="4.7" fill="url(#gg)"/>
<circle cx="99.98" cy="263.41" r="4.7" fill="url(#gg)"/>
<circle cx="99.99" cy="263.39" r="4.7" fill="url(#gg)"/>
<circle cx="99.99" cy="263.36" r="4.7" fill="url(#gg)"/>
<circle cx="100" cy="263.33" r="4.7" fill="url(#gg)"/>
<circle cx="100.01" cy="263.29" r="4.7" fill="url(#gg)"/>
<circle cx="100.02" cy="263.24" r="4.7" fill="url(#gg)"/>
<circle cx="100.04" cy="263.19" r="4.7" fill="url(#gg)"/>
<circle cx="100.05" cy="263.12" r="4.7" fill="url(#gg)"/>
<circle cx="100.07" cy="263.03" r="4.7" fill="url(#gg)"/>
<circle cx="100.1" cy="262.92" r="4.7" fill="url(#gg)"/>
<circle cx="100.13" cy="262.79" r="4.7" fill="url(#gg)"/>
<circle cx="100.17" cy="262.63" r="4.7" fill="url(#gg)"/>
<circle cx="100.22" cy="262.43" r="4.7" fill="url(#gg)"/>
<circle cx="100.29" cy="262.19" r="4.7" fill="url(#gg)"/>
<circle cx="100.37" cy="261.89" r="4.7" fill="url(#gg)"/>
<circle cx="100.47" cy="261.53" r="4.7" fill="url(#gg)"/>
<circle cx="100.61" cy="261.09" r="4.7" fill="url(#gg)"/>
<circle cx="100.78" cy="260.55" r="4.7" fill="url(#gg)"/>
<circle cx="101" cy="259.89" r="4.7" fill="url(#gg)"/>
<circle cx="101.29" cy="259.09" r="4.7" fill="url(#gg)"/>
<circle cx="101.67" cy="258.12" r="4.7" fill="url(#gg)"/>
<circle cx="102.18" cy="256.94" r="4.7" fill="url(#gg)"/>
<circle cx="102.86" cy="255.53" r="4.7" fill="url(#gg)"/>
<circle cx="103.77" cy="253.83" r="4.7" fill="url(#gg)"/>
<circle cx="105" cy="251.83" r="4.7" fill="url(#gg)"/>
<circle cx="106.66" cy="249.48" r="4.7" fill="url(#gg)"/>
<circle cx="108.9" cy="246.79" r="4.7" fill="url(#gg)"/>
<circle cx="113.5" cy="246" r="4.7" fill="url(#gg)"/>
<circle cx="115.84" cy="240.5" r="4.7" fill="url(#gg)"/>
<circle cx="120.5" cy="235.2" r="4.7" fill="url(#gg)"/>
<circle cx="127.9" cy="232.5" r="4.7" fill="url(#gg)"/>
<circle cx="135.8" cy="229.9" r="4.7" fill="url(#gg)"/>
<circle cx="144.7" cy="228.1" r="4.7" fill="url(#gg)"/>
<circle cx="153.8" cy="229.2" r="4.7" fill="url(#gg)"/>
<circle cx="162.8" cy="229.2" r="4.7" fill="url(#gg)"/>
<circle cx="171.1" cy="230.5" r="4.7" fill="url(#gg)"/>
<circle cx="179.2" cy="232.4" r="4.7" fill="url(#gg)"/>
<circle cx="185.9" cy="234.9" r="4.7" fill="url(#gg)"/>
<circle cx="191" cy="237.5" r="4.7" fill="url(#gg)"/>
<circle cx="195.5" cy="240.1" r="4.7" fill="url(#gg)"/>
<circle cx="199.9" cy="243.3" r="4.7" fill="url(#gg)"/>
<circle cx="203.8" cy="247.7" r="4.7" fill="url(#gg)"/>
<circle cx="203.75" cy="251.11" r="4.7" fill="url(#gg)"/>
<circle cx="206.3" cy="252.9" r="4.7" fill="url(#gg)"/>
<circle cx="206.11" cy="255.01" r="4.7" fill="url(#gg)"/>
<circle cx="206.86" cy="256.51" r="4.7" fill="url(#gg)"/>
<circle cx="207.42" cy="257.76" r="4.7" fill="url(#gg)"/>
<circle cx="207.83" cy="258.8" r="4.7" fill="url(#gg)"/>
<circle cx="208.15" cy="259.65" r="4.7" fill="url(#gg)"/>
<circle cx="208.39" cy="260.35" r="4.7" fill="url(#gg)"/>
<circle cx="208.58" cy="260.93" r="4.7" fill="url(#gg)"/>
<circle cx="208.72" cy="261.4" r="4.7" fill="url(#gg)"/>
<circle cx="208.84" cy="261.78" r="4.7" fill="url(#gg)"/>
<circle cx="208.93" cy="262.1" r="4.7" fill="url(#gg)"/>
<circle cx="209" cy="262.35" r="4.7" fill="url(#gg)"/>
<circle cx="209.05" cy="262.56" r="4.7" fill="url(#gg)"/>
<circle cx="209.1" cy="262.73" r="4.7" fill="url(#gg)"/>
<circle cx="209.13" cy="262.87" r="4.7" fill="url(#gg)"/>
<circle cx="209.16" cy="262.99" r="4.7" fill="url(#gg)"/>
<circle cx="209.18" cy="263.08" r="4.7" fill="url(#gg)"/>
<circle cx="209.2" cy="263.15" r="4.7" fill="url(#gg)"/>
<circle cx="209.22" cy="263.21" r="4.7" fill="url(#gg)"/>
<circle cx="209.23" cy="263.26" r="4.7" fill="url(#gg)"/>
<circle cx="209.25" cy="263.29" r="4.7" fill="url(#gg)"/>
<circle cx="209.26" cy="263.32" r="4.7" fill="url(#gg)"/>
<circle cx="209.27" cy="263.34" r="4.7" fill="url(#gg)"/>
<circle cx="209.28" cy="263.36" r="4.7" fill="url(#gg)"/>
<circle cx="209.28" cy="263.37" r="4.7" fill="url(#gg)"/>
<circle cx="209.29" cy="263.38" r="4.7" fill="url(#gg)"/>
<circle cx="209.3" cy="263.38" r="4.7" fill="url(#gg)"/>
<circle cx="209.31" cy="263.37" r="4.7" fill="url(#gg)"/>
<circle cx="209.32" cy="263.37" r="4.7" fill="url(#gg)"/>
<circle cx="209.33" cy="263.36" r="4.7" fill="url(#gg)"/>
<circle cx="209.35" cy="263.34" r="4.7" fill="url(#gg)"/>
<circle cx="209.36" cy="263.32" r="4.7" fill="url(#gg)"/>
<circle cx="209.38" cy="263.29" r="4.7" fill="url(#gg)"/>
<circle cx="209.4" cy="263.26" r="4.7" fill="url(#gg)"/>
<circle cx="209.42" cy="263.22" r="4.7" fill="url(#gg)"/>
<circle cx="209.45" cy="263.17" r="4.7" fill="url(#gg)"/>
<circle cx="209.49" cy="263.11" r="4.7" fill="url(#gg)"/>
<circle cx="209.53" cy="263.04" r="4.7" fill="url(#gg)"/>
<circle cx="209.58" cy="262.96" r="4.7" fill="url(#gg)"/>
<circle cx="209.63" cy="262.86" r="4.7" fill="url(#gg)"/>
<circle cx="209.7" cy="262.74" r="4.7" fill="url(#gg)"/>
<circle cx="209.78" cy="262.6" r="4.7" fill="url(#gg)"/>
<circle cx="209.87" cy="262.43" r="4.7" fill="url(#gg)"/>
<circle cx="209.99" cy="262.23" r="4.7" fill="url(#gg)"/>
<circle cx="210.12" cy="261.99" r="4.7" fill="url(#gg)"/>
<circle cx="210.28" cy="261.71" r="4.7" fill="url(#gg)"/>
<circle cx="210.46" cy="261.38" r="4.7" fill="url(#gg)"/>
<circle cx="210.69" cy="260.98" r="4.7" fill="url(#gg)"/>
<circle cx="210.95" cy="260.51" r="4.7" fill="url(#gg)"/>
<circle cx="211.26" cy="259.96" r="4.7" fill="url(#gg)"/>
<circle cx="211.63" cy="259.3" r="4.7" fill="url(#gg)"/>
<circle cx="212.07" cy="258.51" r="4.7" fill="url(#gg)"/>
<circle cx="212.59" cy="257.58" r="4.7" fill="url(#gg)"/>
<circle cx="213.21" cy="256.48" r="4.7" fill="url(#gg)"/>
<circle cx="213.95" cy="255.17" r="4.7" fill="url(#gg)"/>
<circle cx="214.82" cy="253.61" r="4.7" fill="url(#gg)"/>
<circle cx="215.85" cy="251.77" r="4.7" fill="url(#gg)"/>
<circle cx="217.08" cy="249.58" r="4.7" fill="url(#gg)"/>
<circle cx="216.6" cy="246.5" r="4.7" fill="url(#gg)"/>
<circle cx="220.26" cy="243.9" r="4.7" fill="url(#gg)"/>
<circle cx="222.31" cy="240.25" r="4.7" fill="url(#gg)"/>
<circle cx="223" cy="235.5" r="4.7" fill="url(#gg)"/>
<circle cx="227" cy="229.1" r="4.7" fill="url(#gg)"/>
<circle cx="230.9" cy="222.9" r="4.7" fill="url(#gg)"/>
<circle cx="235" cy="216" r="4.7" fill="url(#gg)"/>
<circle cx="239.4" cy="207.6" r="4.7" fill="url(#gg)"/>
<circle cx="246.6" cy="198" r="4.7" fill="url(#gg)"/>
<circle cx="252.9" cy="185.4" r="4.7" fill="url(#gg)"/>
<circle cx="261.2" cy="172.3" r="4.7" fill="url(#gg)"/>
<circle cx="269.3" cy="154.2" r="4.7" fill="url(#gg)"/>
<circle cx="282" cy="134.4" r="4.7" fill="url(#gg)"/>
<circle cx="295.1" cy="111.3" r="4.7" fill="url(#gg)"/>
<circle cx="310.5" cy="83.2" r="4.7" fill="url(#gg)"/>
<circle cx="328.2" cy="49.7" r="4.7" fill="url(#gg)"/>
<circle cx="91.6" cy="263.2" r="4.7" fill="url(#gd)"/>
<circle cx="91.8" cy="262.5" r="4.7" fill="url(#gd)"/>
<circle cx="92.1" cy="261.6" r="4.7" fill="url(#gd)"/>
<circle cx="92.5" cy="260.4" r="4.7" fill="url(#gd)"/>
<circle cx="93" cy="258.8" r="4.7" fill="url(#gd)"/>
<circle cx="93.6" cy="256.9" r="4.7" fill="url(#gd)"/>
<circle cx="94.4" cy="254.5" r="4.7" fill="url(#gd)"/>
<circle cx="96" cy="251.9" r="4.7" fill="url(#gd)"/>
<circle cx="98" cy="248.8" r="4.7" fill="url(#gd)"/>
<circle cx="100.6" cy="245.6" r="4.7" fill="url(#gd)"/>
<circle cx="103.6" cy="242.2" r="4.7" fill="url(#gd)"/>
<circle cx="107.4" cy="237.3" r="4.7" fill="url(#gd)"/>
<circle cx="112.7" cy="231" r="4.7" fill="url(#gd)"/>
<circle cx="121.4" cy="223.9" r="4.7" fill="url(#gd)"/>
<circle cx="130" cy="217" r="4.7" fill="url(#gd)"/>
<circle cx="140.5" cy="210" r="4.7" fill="url(#gd)"/>
<circle cx="152" cy="202.6" r="4.7" fill="url(#gd)"/>
<circle cx="167.5" cy="196.7" r="4.7" fill="url(#gd)"/>
<circle cx="184" cy="192.4" r="4.7" fill="url(#gd)"/>
<circle cx="207.3" cy="188.9" r="4.7" fill="url(#gd)"/>
<circle cx="222.4" cy="187.7" r="4.7" fill="url(#gd)"/>
<circle cx="241.6" cy="188.9" r="4.7" fill="url(#gd)"/>
<circle cx="260.5" cy="191.9" r="4.7" fill="url(#gd)"/>
<circle cx="277.9" cy="196.5" r="4.7" fill="url(#gd)"/>
<circle cx="292.5" cy="202.5" r="4.7" fill="url(#gd)"/>
<circle cx="305.1" cy="209" r="4.7" fill="url(#gd)"/>
<circle cx="315.6" cy="215.8" r="4.7" fill="url(#gd)"/>
<circle cx="323.7" cy="222.9" r="4.7" fill="url(#gd)"/>
<circle cx="328.5" cy="227.9" r="4.7" fill="url(#gd)"/>
<circle cx="333.2" cy="233.6" r="4.7" fill="url(#gd)"/>
<circle cx="336.72" cy="238.35" r="4.7" fill="url(#gd)"/>
<circle cx="339.58" cy="242.26" r="4.7" fill="url(#gd)"/>
<circle cx="341.81" cy="245.57" r="4.7" fill="url(#gd)"/>
<circle cx="343.56" cy="248.34" r="4.7" fill="url(#gd)"/>
<circle cx="344.95" cy="250.64" r="4.7" fill="url(#gd)"/>
<circle cx="346.06" cy="252.52" r="4.7" fill="url(#gd)"/>
<circle cx="346.97" cy="254.04" r="4.7" fill="url(#gd)"/>
<circle cx="347.72" cy="255.23" r="4.7" fill="url(#gd)"/>
<circle cx="348.37" cy="256.14" r="4.7" fill="url(#gd)"/>
<circle cx="347.7" cy="257.7" r="4.7" fill="url(#gd)"/>
<circle cx="349.47" cy="257.22" r="4.7" fill="url(#gd)"/>
<circle cx="349.97" cy="257.43" r="4.7" fill="url(#gd)"/>
<circle cx="350.46" cy="257.44" r="4.7" fill="url(#gd)"/>
<circle cx="350.97" cy="257.24" r="4.7" fill="url(#gd)"/>
<circle cx="351.51" cy="256.83" r="4.7" fill="url(#gd)"/>
<circle cx="352.1" cy="256.21" r="4.7" fill="url(#gd)"/>
<circle cx="352.76" cy="255.35" r="4.7" fill="url(#gd)"/>
<circle cx="353.52" cy="254.23" r="4.7" fill="url(#gd)"/>
<circle cx="354.39" cy="252.82" r="4.7" fill="url(#gd)"/>
<circle cx="355.4" cy="251.07" r="4.7" fill="url(#gd)"/>
<circle cx="356.6" cy="248.93" r="4.7" fill="url(#gd)"/>
<circle cx="358" cy="246.34" r="4.7" fill="url(#gd)"/>
<circle cx="359.67" cy="243.21" r="4.7" fill="url(#gd)"/>
<circle cx="361.64" cy="239.45" r="4.7" fill="url(#gd)"/>
<circle cx="363.98" cy="234.94" r="4.7" fill="url(#gd)"/>
<circle cx="366.77" cy="229.54" r="4.7" fill="url(#gd)"/>
<circle cx="370.09" cy="223.08" r="4.7" fill="url(#gd)"/>
<circle cx="371.1" cy="217.2" r="4.7" fill="url(#gd)"/>
<circle cx="377.4" cy="205.5" r="4.7" fill="url(#gd)"/>
<circle cx="383.8" cy="194.3" r="4.7" fill="url(#gd)"/>
<circle cx="391.3" cy="181.5" r="4.7" fill="url(#gd)"/>
<circle cx="399.8" cy="166.2" r="4.7" fill="url(#gd)"/>
<circle cx="410.4" cy="148.7" r="4.7" fill="url(#gd)"/>
<circle cx="419.87" cy="125.54" r="4.7" fill="url(#gd)"/>
</g>
<line x1="91.5" y1="16.5" x2="91.5" y2="264" stroke="#000" stroke-width="1.1"/>
<line x1="91" y1="263.5" x2="415.9" y2="263.5" stroke="#6e6e6e" stroke-width="1.2"/>
<line x1="91" y1="16.5" x2="415.9" y2="16.5" stroke="#6e6e6e" stroke-width="1.2"/>
<line x1="415.4" y1="16.5" x2="415.4" y2="263.5" stroke="#000" stroke-width="1.1"/>
<line x1="86.5" y1="263.5" x2="91.5" y2="263.5" stroke="#000" stroke-width="1.1"/>
<line x1="86.5" y1="214.1" x2="91.5" y2="214.1" stroke="#000" stroke-width="1.1"/>
<line x1="86.5" y1="164.7" x2="91.5" y2="164.7" stroke="#000" stroke-width="1.1"/>
<line x1="86.5" y1="115.3" x2="91.5" y2="115.3" stroke="#000" stroke-width="1.1"/>
<line x1="86.5" y1="65.9" x2="91.5" y2="65.9" stroke="#000" stroke-width="1.1"/>
<line x1="86.5" y1="16.5" x2="91.5" y2="16.5" stroke="#000" stroke-width="1.1"/>
<line x1="88.7" y1="238.8" x2="91.5" y2="238.8" stroke="#000" stroke-width="1"/>
<line x1="88.7" y1="189.4" x2="91.5" y2="189.4" stroke="#000" stroke-width="1"/>
<line x1="88.7" y1="140" x2="91.5" y2="140" stroke="#000" stroke-width="1"/>
<line x1="88.7" y1="90.6" x2="91.5" y2="90.6" stroke="#000" stroke-width="1"/>
<line x1="88.7" y1="41.2" x2="91.5" y2="41.2" stroke="#000" stroke-width="1"/>
<text x="83.2" y="267.9" font-size="15.4" text-anchor="end">0.0</text>
<text x="83.2" y="218.5" font-size="15.4" text-anchor="end">2.0E3</text>
<text x="83.2" y="169.1" font-size="15.4" text-anchor="end">4.0E3</text>
<text x="83.2" y="119.7" font-size="15.4" text-anchor="end">6.0E3</text>
<text x="83.2" y="70.3" font-size="15.4" text-anchor="end">8.0E3</text>
<text x="83.2" y="20.9" font-size="15.4" text-anchor="end">1.0E4</text>
<line x1="91.5" y1="263.5" x2="91.5" y2="268" stroke="#000" stroke-width="1.1"/>
<line x1="156.28" y1="263.5" x2="156.28" y2="268" stroke="#000" stroke-width="1.1"/>
<line x1="221.06" y1="263.5" x2="221.06" y2="268" stroke="#000" stroke-width="1.1"/>
<line x1="285.84" y1="263.5" x2="285.84" y2="268" stroke="#000" stroke-width="1.1"/>
<line x1="350.62" y1="263.5" x2="350.62" y2="268" stroke="#000" stroke-width="1.1"/>
<line x1="415.4" y1="263.5" x2="415.4" y2="268" stroke="#000" stroke-width="1.1"/>
<text x="91.5" y="284.1" font-size="15.4" text-anchor="middle">0.0</text>
<text x="156.28" y="284.1" font-size="15.4" text-anchor="middle">2.0E3</text>
<text x="221.06" y="284.1" font-size="15.4" text-anchor="middle">4.0E3</text>
<text x="285.84" y="284.1" font-size="15.4" text-anchor="middle">6.0E3</text>
<text x="350.62" y="284.1" font-size="15.4" text-anchor="middle">8.0E3</text>
<text x="415.4" y="284.1" font-size="15.4" text-anchor="middle">1.0E4</text>
<line x1="123.89" y1="263.5" x2="123.89" y2="266.1" stroke="#000" stroke-width="1"/>
<line x1="188.67" y1="263.5" x2="188.67" y2="266.1" stroke="#000" stroke-width="1"/>
<line x1="253.45" y1="263.5" x2="253.45" y2="266.1" stroke="#000" stroke-width="1"/>
<line x1="318.23" y1="263.5" x2="318.23" y2="266.1" stroke="#000" stroke-width="1"/>
<line x1="383.01" y1="263.5" x2="383.01" y2="266.1" stroke="#000" stroke-width="1"/>
<text x="219.9" y="306.9" font-size="21">Z<tspan font-size="12" dy="6.8">real</tspan><tspan dy="-6.8"> (Ω)</tspan></text>
<text transform="translate(30.6,188) rotate(-90)" font-size="21.5">-Z<tspan font-size="12" dy="6.6">im</tspan><tspan dy="-6.6"> (Ω)</tspan></text>
<text x="6.6" y="29.6" font-size="25.6">(a)</text>
<circle cx="110.6" cy="46.9" r="4.6" fill="url(#gr)"/>
<text x="127.8" y="50.8" font-size="15" font-weight="bold" fill="#d00000">70 <tspan font-size="13" dy="-3" dx="0.8">°</tspan><tspan dy="3" dx="0.3">C</tspan></text>
<circle cx="110.6" cy="69.2" r="4.6" fill="url(#gb)"/>
<text x="127.8" y="73.1" font-size="15" font-weight="bold" fill="#0000c0">60 <tspan font-size="13" dy="-3" dx="0.8">°</tspan><tspan dy="3" dx="0.3">C</tspan></text>
<circle cx="110.6" cy="91.5" r="4.6" fill="url(#gm)"/>
<text x="127.8" y="95.4" font-size="15" font-weight="bold" fill="#e000e0">50 <tspan font-size="13" dy="-3" dx="0.8">°</tspan><tspan dy="3" dx="0.3">C</tspan></text>
<circle cx="110.6" cy="113.8" r="4.6" fill="url(#gg)"/>
<text x="127.8" y="117.7" font-size="15" font-weight="bold" fill="#007800">40 <tspan font-size="13" dy="-3" dx="0.8">°</tspan><tspan dy="3" dx="0.3">C</tspan></text>
<circle cx="110.6" cy="136.1" r="4.6" fill="url(#gd)"/>
<text x="127.8" y="140" font-size="15" font-weight="bold" fill="#700000">30 <tspan font-size="13" dy="-3" dx="0.8">°</tspan><tspan dy="3" dx="0.3">C</tspan></text>
<text x="298" y="136.8" font-size="15.3">PBG0</text>
<text x="298" y="156.3" font-size="15.3">t = 0.04 cm</text>
<text x="298" y="176.6" font-size="15.3">s = 0.785 cm<tspan font-size="9" dy="-7">2</tspan></text>
<g clip-path="url(#cB)">
<circle cx="517.3" cy="263.25" r="4.7" fill="url(#gr)"/>
<circle cx="517.32" cy="263.2" r="4.7" fill="url(#gr)"/>
<circle cx="517.34" cy="263.14" r="4.7" fill="url(#gr)"/>
<circle cx="517.37" cy="263.07" r="4.7" fill="url(#gr)"/>
<circle cx="517.4" cy="262.98" r="4.7" fill="url(#gr)"/>
<circle cx="517.44" cy="262.87" r="4.7" fill="url(#gr)"/>
<circle cx="517.49" cy="262.74" r="4.7" fill="url(#gr)"/>
<circle cx="517.55" cy="262.58" r="4.7" fill="url(#gr)"/>
<circle cx="517.62" cy="262.39" r="4.7" fill="url(#gr)"/>
<circle cx="517.71" cy="262.16" r="4.7" fill="url(#gr)"/>
<circle cx="517.81" cy="261.88" r="4.7" fill="url(#gr)"/>
<circle cx="517.94" cy="261.54" r="4.7" fill="url(#gr)"/>
<circle cx="518.09" cy="261.14" r="4.7" fill="url(#gr)"/>
<circle cx="518.27" cy="260.65" r="4.7" fill="url(#gr)"/>
<circle cx="518.49" cy="260.05" r="4.7" fill="url(#gr)"/>
<circle cx="518.76" cy="259.34" r="4.7" fill="url(#gr)"/>
<circle cx="519.08" cy="258.48" r="4.7" fill="url(#gr)"/>
<circle cx="519.47" cy="257.44" r="4.7" fill="url(#gr)"/>
<circle cx="519.94" cy="256.18" r="4.7" fill="url(#gr)"/>
<circle cx="520.51" cy="254.66" r="4.7" fill="url(#gr)"/>
<circle cx="521.2" cy="252.83" r="4.7" fill="url(#gr)"/>
<circle cx="522.03" cy="250.62" r="4.7" fill="url(#gr)"/>
<circle cx="523.03" cy="247.95" r="4.7" fill="url(#gr)"/>
<circle cx="524.23" cy="244.72" r="4.7" fill="url(#gr)"/>
<circle cx="525.69" cy="240.83" r="4.7" fill="url(#gr)"/>
<circle cx="527.45" cy="236.13" r="4.7" fill="url(#gr)"/>
<circle cx="529.57" cy="230.46" r="4.7" fill="url(#gr)"/>
<circle cx="532.2" cy="223.6" r="4.7" fill="url(#gr)"/>
<circle cx="535.4" cy="215.1" r="4.7" fill="url(#gr)"/>
<circle cx="539" cy="205.5" r="4.7" fill="url(#gr)"/>
<circle cx="543.3" cy="193.4" r="4.7" fill="url(#gr)"/>
<circle cx="549" cy="178.9" r="4.7" fill="url(#gr)"/>
<circle cx="555.4" cy="161.5" r="4.7" fill="url(#gr)"/>
<circle cx="563.4" cy="139.2" r="4.7" fill="url(#gr)"/>
<circle cx="572.8" cy="114.4" r="4.7" fill="url(#gr)"/>
<circle cx="584.7" cy="83.6" r="4.7" fill="url(#gr)"/>
<circle cx="598.7" cy="46.1" r="4.7" fill="url(#gr)"/>
<circle cx="529.74" cy="263.22" r="4.7" fill="url(#gb)"/>
<circle cx="529.76" cy="263.16" r="4.7" fill="url(#gb)"/>
<circle cx="529.78" cy="263.09" r="4.7" fill="url(#gb)"/>
<circle cx="529.81" cy="263" r="4.7" fill="url(#gb)"/>
<circle cx="529.85" cy="262.89" r="4.7" fill="url(#gb)"/>
<circle cx="529.89" cy="262.77" r="4.7" fill="url(#gb)"/>
<circle cx="529.94" cy="262.61" r="4.7" fill="url(#gb)"/>
<circle cx="530" cy="262.42" r="4.7" fill="url(#gb)"/>
<circle cx="530.08" cy="262.19" r="4.7" fill="url(#gb)"/>
<circle cx="530.17" cy="261.9" r="4.7" fill="url(#gb)"/>
<circle cx="530.28" cy="261.56" r="4.7" fill="url(#gb)"/>
<circle cx="530.42" cy="261.15" r="4.7" fill="url(#gb)"/>
<circle cx="530.58" cy="260.65" r="4.7" fill="url(#gb)"/>
<circle cx="530.78" cy="260.04" r="4.7" fill="url(#gb)"/>
<circle cx="531.02" cy="259.3" r="4.7" fill="url(#gb)"/>
<circle cx="531.32" cy="258.4" r="4.7" fill="url(#gb)"/>
<circle cx="531.67" cy="257.31" r="4.7" fill="url(#gb)"/>
<circle cx="532.11" cy="255.98" r="4.7" fill="url(#gb)"/>
<circle cx="532.63" cy="254.37" r="4.7" fill="url(#gb)"/>
<circle cx="533.27" cy="252.42" r="4.7" fill="url(#gb)"/>
<circle cx="534.04" cy="250.05" r="4.7" fill="url(#gb)"/>
<circle cx="534.98" cy="247.18" r="4.7" fill="url(#gb)"/>
<circle cx="536.12" cy="243.69" r="4.7" fill="url(#gb)"/>
<circle cx="537.51" cy="239.45" r="4.7" fill="url(#gb)"/>
<circle cx="539.19" cy="234.31" r="4.7" fill="url(#gb)"/>
<circle cx="541.23" cy="228.07" r="4.7" fill="url(#gb)"/>
<circle cx="543.7" cy="220.4" r="4.7" fill="url(#gb)"/>
<circle cx="546.9" cy="211.5" r="4.7" fill="url(#gb)"/>
<circle cx="550.3" cy="200.2" r="4.7" fill="url(#gb)"/>
<circle cx="554.6" cy="186.4" r="4.7" fill="url(#gb)"/>
<circle cx="560.3" cy="170" r="4.7" fill="url(#gb)"/>
<circle cx="566.7" cy="150.2" r="4.7" fill="url(#gb)"/>
<circle cx="574.6" cy="126" r="4.7" fill="url(#gb)"/>
<circle cx="584.1" cy="96.7" r="4.7" fill="url(#gb)"/>
<circle cx="595.8" cy="60.7" r="4.7" fill="url(#gb)"/>
<circle cx="610.2" cy="17.5" r="4.7" fill="url(#gb)"/>
<circle cx="547.56" cy="263.24" r="4.7" fill="url(#gm)"/>
<circle cx="547.58" cy="263.19" r="4.7" fill="url(#gm)"/>
<circle cx="547.6" cy="263.12" r="4.7" fill="url(#gm)"/>
<circle cx="547.62" cy="263.04" r="4.7" fill="url(#gm)"/>
<circle cx="547.66" cy="262.94" r="4.7" fill="url(#gm)"/>
<circle cx="547.69" cy="262.82" r="4.7" fill="url(#gm)"/>
<circle cx="547.74" cy="262.67" r="4.7" fill="url(#gm)"/>
<circle cx="547.8" cy="262.5" r="4.7" fill="url(#gm)"/>
<circle cx="547.86" cy="262.28" r="4.7" fill="url(#gm)"/>
<circle cx="547.95" cy="262.03" r="4.7" fill="url(#gm)"/>
<circle cx="548.05" cy="261.71" r="4.7" fill="url(#gm)"/>
<circle cx="548.17" cy="261.33" r="4.7" fill="url(#gm)"/>
<circle cx="548.32" cy="260.87" r="4.7" fill="url(#gm)"/>
<circle cx="548.5" cy="260.3" r="4.7" fill="url(#gm)"/>
<circle cx="548.71" cy="259.62" r="4.7" fill="url(#gm)"/>
<circle cx="548.98" cy="258.8" r="4.7" fill="url(#gm)"/>
<circle cx="549.3" cy="257.79" r="4.7" fill="url(#gm)"/>
<circle cx="549.68" cy="256.58" r="4.7" fill="url(#gm)"/>
<circle cx="550.16" cy="255.1" r="4.7" fill="url(#gm)"/>
<circle cx="550.73" cy="253.31" r="4.7" fill="url(#gm)"/>
<circle cx="551.42" cy="251.13" r="4.7" fill="url(#gm)"/>
<circle cx="552.26" cy="248.5" r="4.7" fill="url(#gm)"/>
<circle cx="553.28" cy="245.3" r="4.7" fill="url(#gm)"/>
<circle cx="554.52" cy="241.41" r="4.7" fill="url(#gm)"/>
<circle cx="556.02" cy="236.71" r="4.7" fill="url(#gm)"/>
<circle cx="557.84" cy="230.99" r="4.7" fill="url(#gm)"/>
<circle cx="559.9" cy="223.6" r="4.7" fill="url(#gm)"/>
<circle cx="562.9" cy="215.1" r="4.7" fill="url(#gm)"/>
<circle cx="566.1" cy="205.1" r="4.7" fill="url(#gm)"/>
<circle cx="569.9" cy="193.2" r="4.7" fill="url(#gm)"/>
<circle cx="574.8" cy="178.5" r="4.7" fill="url(#gm)"/>
<circle cx="580.5" cy="160.2" r="4.7" fill="url(#gm)"/>
<circle cx="587.4" cy="137.6" r="4.7" fill="url(#gm)"/>
<circle cx="596.1" cy="111.3" r="4.7" fill="url(#gm)"/>
<circle cx="606.7" cy="78.3" r="4.7" fill="url(#gm)"/>
<circle cx="619.1" cy="38.5" r="4.7" fill="url(#gm)"/>
<circle cx="574.3" cy="264" r="4.7" fill="url(#gg)"/>
<circle cx="574.37" cy="263.83" r="4.7" fill="url(#gg)"/>
<circle cx="574.52" cy="263.49" r="4.7" fill="url(#gg)"/>
<circle cx="574.71" cy="263.03" r="4.7" fill="url(#gg)"/>
<circle cx="574.95" cy="262.47" r="4.7" fill="url(#gg)"/>
<circle cx="575.23" cy="261.81" r="4.7" fill="url(#gg)"/>
<circle cx="575.55" cy="261.07" r="4.7" fill="url(#gg)"/>
<circle cx="575.9" cy="260.25" r="4.7" fill="url(#gg)"/>
<circle cx="576.28" cy="259.35" r="4.7" fill="url(#gg)"/>
<circle cx="576.69" cy="258.39" r="4.7" fill="url(#gg)"/>
<circle cx="577.13" cy="257.36" r="4.7" fill="url(#gg)"/>
<circle cx="577.6" cy="256.26" r="4.7" fill="url(#gg)"/>
<circle cx="578.09" cy="255.11" r="4.7" fill="url(#gg)"/>
<circle cx="578.61" cy="253.89" r="4.7" fill="url(#gg)"/>
<circle cx="579.15" cy="252.62" r="4.7" fill="url(#gg)"/>
<circle cx="579.72" cy="251.29" r="4.7" fill="url(#gg)"/>
<circle cx="580.3" cy="249.91" r="4.7" fill="url(#gg)"/>
<circle cx="580.92" cy="248.47" r="4.7" fill="url(#gg)"/>
<circle cx="581.55" cy="246.99" r="4.7" fill="url(#gg)"/>
<circle cx="582.2" cy="245.45" r="4.7" fill="url(#gg)"/>
<circle cx="582.88" cy="243.86" r="4.7" fill="url(#gg)"/>
<circle cx="583.58" cy="242.23" r="4.7" fill="url(#gg)"/>
<circle cx="584.29" cy="240.54" r="4.7" fill="url(#gg)"/>
<circle cx="585.03" cy="238.82" r="4.7" fill="url(#gg)"/>
<circle cx="585.79" cy="237.04" r="4.7" fill="url(#gg)"/>
<circle cx="586.56" cy="235.22" r="4.7" fill="url(#gg)"/>
<circle cx="587.36" cy="233.36" r="4.7" fill="url(#gg)"/>
<circle cx="588.17" cy="231.45" r="4.7" fill="url(#gg)"/>
<circle cx="590.5" cy="226.8" r="4.7" fill="url(#gg)"/>
<circle cx="593.3" cy="219.4" r="4.7" fill="url(#gg)"/>
<circle cx="596.5" cy="210.4" r="4.7" fill="url(#gg)"/>
<circle cx="600.1" cy="199.1" r="4.7" fill="url(#gg)"/>
<circle cx="604.4" cy="185.6" r="4.7" fill="url(#gg)"/>
<circle cx="610" cy="168.9" r="4.7" fill="url(#gg)"/>
<circle cx="616.4" cy="148.9" r="4.7" fill="url(#gg)"/>
<circle cx="624.4" cy="124.4" r="4.7" fill="url(#gg)"/>
<circle cx="633.9" cy="94.7" r="4.7" fill="url(#gg)"/>
<circle cx="645.6" cy="58.6" r="4.7" fill="url(#gg)"/>
<circle cx="658.9" cy="15.8" r="4.7" fill="url(#gg)"/>
<circle cx="563.9" cy="265.6" r="4.7" fill="url(#gd)"/>
<circle cx="580.8" cy="262.3" r="4.7" fill="url(#gd)"/>
<circle cx="587" cy="259.3" r="4.7" fill="url(#gd)"/>
<circle cx="597" cy="254.5" r="4.7" fill="url(#gd)"/>
<circle cx="612.6" cy="245.9" r="4.7" fill="url(#gd)"/>
<circle cx="629.6" cy="240.9" r="4.7" fill="url(#gd)"/>
<circle cx="644.9" cy="237.7" r="4.7" fill="url(#gd)"/>
<circle cx="658.4" cy="235.7" r="4.7" fill="url(#gd)"/>
<circle cx="677.6" cy="238.2" r="4.7" fill="url(#gd)"/>
<circle cx="685.3" cy="240.5" r="4.7" fill="url(#gd)"/>
<circle cx="691.1" cy="241.8" r="4.7" fill="url(#gd)"/>
<circle cx="696.2" cy="243.9" r="4.7" fill="url(#gd)"/>
<circle cx="700.02" cy="245.68" r="4.7" fill="url(#gd)"/>
<circle cx="703.09" cy="247.44" r="4.7" fill="url(#gd)"/>
<circle cx="705.55" cy="249.1" r="4.7" fill="url(#gd)"/>
<circle cx="707.54" cy="250.62" r="4.7" fill="url(#gd)"/>
<circle cx="709.14" cy="251.98" r="4.7" fill="url(#gd)"/>
<circle cx="710.44" cy="253.17" r="4.7" fill="url(#gd)"/>
<circle cx="711.5" cy="254.22" r="4.7" fill="url(#gd)"/>
<circle cx="712.36" cy="255.12" r="4.7" fill="url(#gd)"/>
<circle cx="713.06" cy="255.89" r="4.7" fill="url(#gd)"/>
<circle cx="713.64" cy="256.55" r="4.7" fill="url(#gd)"/>
<circle cx="714.12" cy="257.12" r="4.7" fill="url(#gd)"/>
<circle cx="714.52" cy="257.6" r="4.7" fill="url(#gd)"/>
<circle cx="714.84" cy="258.01" r="4.7" fill="url(#gd)"/>
<circle cx="715.12" cy="258.35" r="4.7" fill="url(#gd)"/>
<circle cx="715.34" cy="258.64" r="4.7" fill="url(#gd)"/>
<circle cx="715.53" cy="258.89" r="4.7" fill="url(#gd)"/>
<circle cx="715.69" cy="259.09" r="4.7" fill="url(#gd)"/>
<circle cx="715.82" cy="259.27" r="4.7" fill="url(#gd)"/>
<circle cx="715.93" cy="259.42" r="4.7" fill="url(#gd)"/>
<circle cx="716.02" cy="259.54" r="4.7" fill="url(#gd)"/>
<circle cx="716.1" cy="259.65" r="4.7" fill="url(#gd)"/>
<circle cx="716.16" cy="259.73" r="4.7" fill="url(#gd)"/>
<circle cx="716.22" cy="259.81" r="4.7" fill="url(#gd)"/>
<circle cx="716.26" cy="259.87" r="4.7" fill="url(#gd)"/>
<circle cx="716.5" cy="260.2" r="4.7" fill="url(#gd)"/>
<circle cx="716.65" cy="259.88" r="4.7" fill="url(#gd)"/>
<circle cx="716.68" cy="259.82" r="4.7" fill="url(#gd)"/>
<circle cx="716.71" cy="259.74" r="4.7" fill="url(#gd)"/>
<circle cx="716.75" cy="259.66" r="4.7" fill="url(#gd)"/>
<circle cx="716.8" cy="259.55" r="4.7" fill="url(#gd)"/>
<circle cx="716.85" cy="259.43" r="4.7" fill="url(#gd)"/>
<circle cx="716.92" cy="259.28" r="4.7" fill="url(#gd)"/>
<circle cx="717" cy="259.11" r="4.7" fill="url(#gd)"/>
<circle cx="717.1" cy="258.9" r="4.7" fill="url(#gd)"/>
<circle cx="717.22" cy="258.66" r="4.7" fill="url(#gd)"/>
<circle cx="717.35" cy="258.37" r="4.7" fill="url(#gd)"/>
<circle cx="717.52" cy="258.02" r="4.7" fill="url(#gd)"/>
<circle cx="717.72" cy="257.61" r="4.7" fill="url(#gd)"/>
<circle cx="717.96" cy="257.12" r="4.7" fill="url(#gd)"/>
<circle cx="718.25" cy="256.54" r="4.7" fill="url(#gd)"/>
<circle cx="718.59" cy="255.85" r="4.7" fill="url(#gd)"/>
<circle cx="719.01" cy="255.03" r="4.7" fill="url(#gd)"/>
<circle cx="719.52" cy="254.06" r="4.7" fill="url(#gd)"/>
<circle cx="720.13" cy="252.92" r="4.7" fill="url(#gd)"/>
<circle cx="720.87" cy="251.56" r="4.7" fill="url(#gd)"/>
<circle cx="721.78" cy="249.96" r="4.7" fill="url(#gd)"/>
<circle cx="722.88" cy="248.07" r="4.7" fill="url(#gd)"/>
<circle cx="724.23" cy="245.84" r="4.7" fill="url(#gd)"/>
<circle cx="725.89" cy="243.21" r="4.7" fill="url(#gd)"/>
<circle cx="727.92" cy="240.13" r="4.7" fill="url(#gd)"/>
<circle cx="730.42" cy="236.52" r="4.7" fill="url(#gd)"/>
<circle cx="733.5" cy="232.3" r="4.7" fill="url(#gd)"/>
<circle cx="737.1" cy="227.1" r="4.7" fill="url(#gd)"/>
<circle cx="741.3" cy="219.9" r="4.7" fill="url(#gd)"/>
<circle cx="745.5" cy="212.5" r="4.7" fill="url(#gd)"/>
<circle cx="750.7" cy="203.1" r="4.7" fill="url(#gd)"/>
<circle cx="756.9" cy="191.5" r="4.7" fill="url(#gd)"/>
<circle cx="763.3" cy="178.5" r="4.7" fill="url(#gd)"/>
<circle cx="770.5" cy="162.3" r="4.7" fill="url(#gd)"/>
<circle cx="779.5" cy="142.9" r="4.7" fill="url(#gd)"/>
<circle cx="789.9" cy="119.3" r="4.7" fill="url(#gd)"/>
<circle cx="802.5" cy="91.1" r="4.7" fill="url(#gd)"/>
<circle cx="816.7" cy="57.2" r="4.7" fill="url(#gd)"/>
<circle cx="831.5" cy="21.5" r="4.7" fill="url(#gd)"/>
</g>
<line x1="503.5" y1="16.4" x2="503.5" y2="264" stroke="#000" stroke-width="1.1"/>
<line x1="503" y1="263.5" x2="828" y2="263.5" stroke="#000" stroke-width="1.2"/>
<line x1="503" y1="16.4" x2="828" y2="16.4" stroke="#555" stroke-width="1.2"/>
<line x1="827.5" y1="16.4" x2="827.5" y2="263.5" stroke="#777" stroke-width="1.1"/>
<line x1="498.5" y1="263.5" x2="503.5" y2="263.5" stroke="#000" stroke-width="1.1"/>
<line x1="498.5" y1="214.08" x2="503.5" y2="214.08" stroke="#000" stroke-width="1.1"/>
<line x1="498.5" y1="164.66" x2="503.5" y2="164.66" stroke="#000" stroke-width="1.1"/>
<line x1="498.5" y1="115.24" x2="503.5" y2="115.24" stroke="#000" stroke-width="1.1"/>
<line x1="498.5" y1="65.82" x2="503.5" y2="65.82" stroke="#000" stroke-width="1.1"/>
<line x1="498.5" y1="16.4" x2="503.5" y2="16.4" stroke="#000" stroke-width="1.1"/>
<line x1="500.7" y1="238.79" x2="503.5" y2="238.79" stroke="#000" stroke-width="1"/>
<line x1="500.7" y1="189.37" x2="503.5" y2="189.37" stroke="#000" stroke-width="1"/>
<line x1="500.7" y1="139.95" x2="503.5" y2="139.95" stroke="#000" stroke-width="1"/>
<line x1="500.7" y1="90.53" x2="503.5" y2="90.53" stroke="#000" stroke-width="1"/>
<line x1="500.7" y1="41.11" x2="503.5" y2="41.11" stroke="#000" stroke-width="1"/>
<text x="495.2" y="267.9" font-size="15.4" text-anchor="end">0.0</text>
<text x="495.2" y="218.48" font-size="15.4" text-anchor="end">2.0E2</text>
<text x="495.2" y="169.06" font-size="15.4" text-anchor="end">4.0E2</text>
<text x="495.2" y="119.64" font-size="15.4" text-anchor="end">6.0E2</text>
<text x="495.2" y="70.22" font-size="15.4" text-anchor="end">8.0E2</text>
<text x="495.2" y="20.8" font-size="15.4" text-anchor="end">1.0E3</text>
<line x1="503.5" y1="263.5" x2="503.5" y2="268" stroke="#000" stroke-width="1.1"/>
<line x1="568.3" y1="263.5" x2="568.3" y2="268" stroke="#000" stroke-width="1.1"/>
<line x1="633.1" y1="263.5" x2="633.1" y2="268" stroke="#000" stroke-width="1.1"/>
<line x1="697.9" y1="263.5" x2="697.9" y2="268" stroke="#000" stroke-width="1.1"/>
<line x1="762.7" y1="263.5" x2="762.7" y2="268" stroke="#000" stroke-width="1.1"/>
<line x1="827.5" y1="263.5" x2="827.5" y2="268" stroke="#000" stroke-width="1.1"/>
<text x="503.5" y="284.1" font-size="15.4" text-anchor="middle">0.0</text>
<text x="568.3" y="284.1" font-size="15.4" text-anchor="middle">2.0E2</text>
<text x="633.1" y="284.1" font-size="15.4" text-anchor="middle">4.0E2</text>
<text x="697.9" y="284.1" font-size="15.4" text-anchor="middle">6.0E2</text>
<text x="762.7" y="284.1" font-size="15.4" text-anchor="middle">8.0E2</text>
<text x="827.5" y="284.1" font-size="15.4" text-anchor="middle">1.0E3</text>
<line x1="535.9" y1="263.5" x2="535.9" y2="266.1" stroke="#000" stroke-width="1"/>
<line x1="600.7" y1="263.5" x2="600.7" y2="266.1" stroke="#000" stroke-width="1"/>
<line x1="665.5" y1="263.5" x2="665.5" y2="266.1" stroke="#000" stroke-width="1"/>
<line x1="730.3" y1="263.5" x2="730.3" y2="266.1" stroke="#000" stroke-width="1"/>
<line x1="795.1" y1="263.5" x2="795.1" y2="266.1" stroke="#000" stroke-width="1"/>
<text x="631.9" y="306.9" font-size="21">Z<tspan font-size="12" dy="6.8">real</tspan><tspan dy="-6.8"> (Ω)</tspan></text>
<text transform="translate(442.6,188) rotate(-90)" font-size="21.5">-Z<tspan font-size="12" dy="6.6">im</tspan><tspan dy="-6.6"> (Ω)</tspan></text>
<text x="420.2" y="29.6" font-size="25.6">(b)</text>
<circle cx="697.9" cy="52.5" r="4.6" fill="url(#gr)"/>
<text x="715.1" y="56.4" font-size="15" font-weight="bold" fill="#d00000">70 <tspan font-size="13" dy="-3" dx="0.8">°</tspan><tspan dy="3" dx="0.3">C</tspan></text>
<circle cx="697.9" cy="74.8" r="4.6" fill="url(#gb)"/>
<text x="715.1" y="78.7" font-size="15" font-weight="bold" fill="#0000c0">60 <tspan font-size="13" dy="-3" dx="0.8">°</tspan><tspan dy="3" dx="0.3">C</tspan></text>
<circle cx="697.9" cy="97.1" r="4.6" fill="url(#gm)"/>
<text x="715.1" y="101" font-size="15" font-weight="bold" fill="#e000e0">50 <tspan font-size="13" dy="-3" dx="0.8">°</tspan><tspan dy="3" dx="0.3">C</tspan></text>
<circle cx="697.9" cy="119.4" r="4.6" fill="url(#gg)"/>
<text x="715.1" y="123.3" font-size="15" font-weight="bold" fill="#007800">40 <tspan font-size="13" dy="-3" dx="0.8">°</tspan><tspan dy="3" dx="0.3">C</tspan></text>
<circle cx="697.9" cy="141.7" r="4.6" fill="url(#gd)"/>
<text x="715.1" y="145.6" font-size="15" font-weight="bold" fill="#700000">30 <tspan font-size="13" dy="-3" dx="0.8">°</tspan><tspan dy="3" dx="0.3">C</tspan></text>
<text x="634.8" y="171.6" font-size="15.3">PBG2</text>
<text x="634.8" y="191.7" font-size="15.3">t = 0.05 cm</text>
<text x="634.8" y="213.6" font-size="15.3">s = 0.785 cm<tspan font-size="9" dy="-7">2</tspan></text>
<g clip-path="url(#cC)">
<circle cx="944.14" cy="261.95" r="4.7" fill="url(#gr)"/>
<circle cx="944.16" cy="261.9" r="4.7" fill="url(#gr)"/>
<circle cx="944.18" cy="261.83" r="4.7" fill="url(#gr)"/>
<circle cx="944.21" cy="261.75" r="4.7" fill="url(#gr)"/>
<circle cx="944.24" cy="261.66" r="4.7" fill="url(#gr)"/>
<circle cx="944.28" cy="261.55" r="4.7" fill="url(#gr)"/>
<circle cx="944.33" cy="261.41" r="4.7" fill="url(#gr)"/>
<circle cx="944.39" cy="261.24" r="4.7" fill="url(#gr)"/>
<circle cx="944.46" cy="261.04" r="4.7" fill="url(#gr)"/>
<circle cx="944.55" cy="260.8" r="4.7" fill="url(#gr)"/>
<circle cx="944.65" cy="260.5" r="4.7" fill="url(#gr)"/>
<circle cx="944.78" cy="260.14" r="4.7" fill="url(#gr)"/>
<circle cx="944.93" cy="259.71" r="4.7" fill="url(#gr)"/>
<circle cx="945.12" cy="259.18" r="4.7" fill="url(#gr)"/>
<circle cx="945.34" cy="258.54" r="4.7" fill="url(#gr)"/>
<circle cx="945.62" cy="257.77" r="4.7" fill="url(#gr)"/>
<circle cx="945.95" cy="256.84" r="4.7" fill="url(#gr)"/>
<circle cx="946.35" cy="255.7" r="4.7" fill="url(#gr)"/>
<circle cx="946.83" cy="254.33" r="4.7" fill="url(#gr)"/>
<circle cx="947.42" cy="252.67" r="4.7" fill="url(#gr)"/>
<circle cx="948.13" cy="250.66" r="4.7" fill="url(#gr)"/>
<circle cx="948.99" cy="248.23" r="4.7" fill="url(#gr)"/>
<circle cx="950.04" cy="245.28" r="4.7" fill="url(#gr)"/>
<circle cx="951.3" cy="241.71" r="4.7" fill="url(#gr)"/>
<circle cx="952.83" cy="237.39" r="4.7" fill="url(#gr)"/>
<circle cx="954.68" cy="232.15" r="4.7" fill="url(#gr)"/>
<circle cx="957" cy="225.6" r="4.7" fill="url(#gr)"/>
<circle cx="959.7" cy="218.3" r="4.7" fill="url(#gr)"/>
<circle cx="963.2" cy="209.2" r="4.7" fill="url(#gr)"/>
<circle cx="967" cy="198.3" r="4.7" fill="url(#gr)"/>
<circle cx="971.5" cy="184.2" r="4.7" fill="url(#gr)"/>
<circle cx="977.3" cy="167.2" r="4.7" fill="url(#gr)"/>
<circle cx="984.6" cy="147" r="4.7" fill="url(#gr)"/>
<circle cx="993.2" cy="123.1" r="4.7" fill="url(#gr)"/>
<circle cx="1003.6" cy="93.5" r="4.7" fill="url(#gr)"/>
<circle cx="1016.2" cy="57.7" r="4.7" fill="url(#gr)"/>
<circle cx="1031.5" cy="16.2" r="4.7" fill="url(#gr)"/>
<circle cx="956.34" cy="261.95" r="4.7" fill="url(#gb)"/>
<circle cx="956.36" cy="261.9" r="4.7" fill="url(#gb)"/>
<circle cx="956.38" cy="261.83" r="4.7" fill="url(#gb)"/>
<circle cx="956.41" cy="261.76" r="4.7" fill="url(#gb)"/>
<circle cx="956.44" cy="261.66" r="4.7" fill="url(#gb)"/>
<circle cx="956.48" cy="261.54" r="4.7" fill="url(#gb)"/>
<circle cx="956.53" cy="261.4" r="4.7" fill="url(#gb)"/>
<circle cx="956.58" cy="261.23" r="4.7" fill="url(#gb)"/>
<circle cx="956.65" cy="261.02" r="4.7" fill="url(#gb)"/>
<circle cx="956.74" cy="260.77" r="4.7" fill="url(#gb)"/>
<circle cx="956.84" cy="260.47" r="4.7" fill="url(#gb)"/>
<circle cx="956.97" cy="260.09" r="4.7" fill="url(#gb)"/>
<circle cx="957.12" cy="259.64" r="4.7" fill="url(#gb)"/>
<circle cx="957.3" cy="259.09" r="4.7" fill="url(#gb)"/>
<circle cx="957.52" cy="258.43" r="4.7" fill="url(#gb)"/>
<circle cx="957.8" cy="257.62" r="4.7" fill="url(#gb)"/>
<circle cx="958.13" cy="256.63" r="4.7" fill="url(#gb)"/>
<circle cx="958.53" cy="255.44" r="4.7" fill="url(#gb)"/>
<circle cx="959.01" cy="253.99" r="4.7" fill="url(#gb)"/>
<circle cx="959.6" cy="252.22" r="4.7" fill="url(#gb)"/>
<circle cx="960.32" cy="250.08" r="4.7" fill="url(#gb)"/>
<circle cx="961.19" cy="247.48" r="4.7" fill="url(#gb)"/>
<circle cx="962.25" cy="244.32" r="4.7" fill="url(#gb)"/>
<circle cx="963.54" cy="240.49" r="4.7" fill="url(#gb)"/>
<circle cx="965.1" cy="235.83" r="4.7" fill="url(#gb)"/>
<circle cx="966.99" cy="230.17" r="4.7" fill="url(#gb)"/>
<circle cx="969.2" cy="222.9" r="4.7" fill="url(#gb)"/>
<circle cx="972.3" cy="214.7" r="4.7" fill="url(#gb)"/>
<circle cx="975.5" cy="204.6" r="4.7" fill="url(#gb)"/>
<circle cx="979.7" cy="193" r="4.7" fill="url(#gb)"/>
<circle cx="984.6" cy="177.7" r="4.7" fill="url(#gb)"/>
<circle cx="990.7" cy="159.5" r="4.7" fill="url(#gb)"/>
<circle cx="998.1" cy="137.2" r="4.7" fill="url(#gb)"/>
<circle cx="1006.8" cy="110.7" r="4.7" fill="url(#gb)"/>
<circle cx="1017.9" cy="77.9" r="4.7" fill="url(#gb)"/>
<circle cx="1031.5" cy="38.4" r="4.7" fill="url(#gb)"/>
<circle cx="969.95" cy="261.92" r="4.7" fill="url(#gm)"/>
<circle cx="969.97" cy="261.86" r="4.7" fill="url(#gm)"/>
<circle cx="969.99" cy="261.79" r="4.7" fill="url(#gm)"/>
<circle cx="970.02" cy="261.7" r="4.7" fill="url(#gm)"/>
<circle cx="970.06" cy="261.59" r="4.7" fill="url(#gm)"/>
<circle cx="970.1" cy="261.46" r="4.7" fill="url(#gm)"/>
<circle cx="970.15" cy="261.3" r="4.7" fill="url(#gm)"/>
<circle cx="970.21" cy="261.11" r="4.7" fill="url(#gm)"/>
<circle cx="970.29" cy="260.88" r="4.7" fill="url(#gm)"/>
<circle cx="970.38" cy="260.59" r="4.7" fill="url(#gm)"/>
<circle cx="970.49" cy="260.25" r="4.7" fill="url(#gm)"/>
<circle cx="970.63" cy="259.84" r="4.7" fill="url(#gm)"/>
<circle cx="970.79" cy="259.33" r="4.7" fill="url(#gm)"/>
<circle cx="970.99" cy="258.72" r="4.7" fill="url(#gm)"/>
<circle cx="971.24" cy="257.98" r="4.7" fill="url(#gm)"/>
<circle cx="971.53" cy="257.08" r="4.7" fill="url(#gm)"/>
<circle cx="971.89" cy="255.99" r="4.7" fill="url(#gm)"/>
<circle cx="972.32" cy="254.66" r="4.7" fill="url(#gm)"/>
<circle cx="972.85" cy="253.05" r="4.7" fill="url(#gm)"/>
<circle cx="973.48" cy="251.1" r="4.7" fill="url(#gm)"/>
<circle cx="974.26" cy="248.73" r="4.7" fill="url(#gm)"/>
<circle cx="975.2" cy="245.86" r="4.7" fill="url(#gm)"/>
<circle cx="976.33" cy="242.37" r="4.7" fill="url(#gm)"/>
<circle cx="977.72" cy="238.14" r="4.7" fill="url(#gm)"/>
<circle cx="979.39" cy="233.01" r="4.7" fill="url(#gm)"/>
<circle cx="981.43" cy="226.78" r="4.7" fill="url(#gm)"/>
<circle cx="983.9" cy="219.2" r="4.7" fill="url(#gm)"/>
<circle cx="987" cy="210.1" r="4.7" fill="url(#gm)"/>
<circle cx="990.5" cy="198.8" r="4.7" fill="url(#gm)"/>
<circle cx="995" cy="185.5" r="4.7" fill="url(#gm)"/>
<circle cx="1000.1" cy="168.7" r="4.7" fill="url(#gm)"/>
<circle cx="1006.8" cy="149.5" r="4.7" fill="url(#gm)"/>
<circle cx="1014.7" cy="125.3" r="4.7" fill="url(#gm)"/>
<circle cx="1024.1" cy="95.7" r="4.7" fill="url(#gm)"/>
<circle cx="1035.7" cy="59.9" r="4.7" fill="url(#gm)"/>
<circle cx="1050" cy="17.4" r="4.7" fill="url(#gm)"/>
<circle cx="1003.18" cy="261.95" r="4.7" fill="url(#gg)"/>
<circle cx="1003.2" cy="261.89" r="4.7" fill="url(#gg)"/>
<circle cx="1003.22" cy="261.83" r="4.7" fill="url(#gg)"/>
<circle cx="1003.24" cy="261.75" r="4.7" fill="url(#gg)"/>
<circle cx="1003.27" cy="261.65" r="4.7" fill="url(#gg)"/>
<circle cx="1003.31" cy="261.53" r="4.7" fill="url(#gg)"/>
<circle cx="1003.36" cy="261.39" r="4.7" fill="url(#gg)"/>
<circle cx="1003.41" cy="261.22" r="4.7" fill="url(#gg)"/>
<circle cx="1003.48" cy="261.01" r="4.7" fill="url(#gg)"/>
<circle cx="1003.56" cy="260.75" r="4.7" fill="url(#gg)"/>
<circle cx="1003.66" cy="260.44" r="4.7" fill="url(#gg)"/>
<circle cx="1003.78" cy="260.06" r="4.7" fill="url(#gg)"/>
<circle cx="1003.93" cy="259.61" r="4.7" fill="url(#gg)"/>
<circle cx="1004.11" cy="259.06" r="4.7" fill="url(#gg)"/>
<circle cx="1004.33" cy="258.38" r="4.7" fill="url(#gg)"/>
<circle cx="1004.59" cy="257.57" r="4.7" fill="url(#gg)"/>
<circle cx="1004.91" cy="256.58" r="4.7" fill="url(#gg)"/>
<circle cx="1005.29" cy="255.38" r="4.7" fill="url(#gg)"/>
<circle cx="1005.76" cy="253.92" r="4.7" fill="url(#gg)"/>
<circle cx="1006.33" cy="252.15" r="4.7" fill="url(#gg)"/>
<circle cx="1007.02" cy="250.01" r="4.7" fill="url(#gg)"/>
<circle cx="1007.86" cy="247.4" r="4.7" fill="url(#gg)"/>
<circle cx="1008.88" cy="244.24" r="4.7" fill="url(#gg)"/>
<circle cx="1010.12" cy="240.41" r="4.7" fill="url(#gg)"/>
<circle cx="1011.62" cy="235.76" r="4.7" fill="url(#gg)"/>
<circle cx="1013.44" cy="230.11" r="4.7" fill="url(#gg)"/>
<circle cx="1015.2" cy="222.9" r="4.7" fill="url(#gg)"/>
<circle cx="1018.3" cy="214.7" r="4.7" fill="url(#gg)"/>
<circle cx="1021.6" cy="204.6" r="4.7" fill="url(#gg)"/>
<circle cx="1025.6" cy="192.8" r="4.7" fill="url(#gg)"/>
<circle cx="1030.5" cy="177.9" r="4.7" fill="url(#gg)"/>
<circle cx="1036.5" cy="160" r="4.7" fill="url(#gg)"/>
<circle cx="1043.3" cy="137.9" r="4.7" fill="url(#gg)"/>
<circle cx="1051.7" cy="111.2" r="4.7" fill="url(#gg)"/>
<circle cx="1061.9" cy="79.1" r="4.7" fill="url(#gg)"/>
<circle cx="1074.7" cy="39.6" r="4.7" fill="url(#gg)"/>
<circle cx="1056" cy="263.6" r="4.7" fill="url(#gd)"/>
<circle cx="1057.8" cy="263.3" r="4.7" fill="url(#gd)"/>
<circle cx="1059.6" cy="263" r="4.7" fill="url(#gd)"/>
<circle cx="1061.4" cy="262.8" r="4.7" fill="url(#gd)"/>
<circle cx="1063.3" cy="264.2" r="4.7" fill="url(#gd)"/>
<circle cx="1063.39" cy="263.94" r="4.7" fill="url(#gd)"/>
<circle cx="1063.56" cy="263.47" r="4.7" fill="url(#gd)"/>
<circle cx="1063.77" cy="262.86" r="4.7" fill="url(#gd)"/>
<circle cx="1064.02" cy="262.14" r="4.7" fill="url(#gd)"/>
<circle cx="1064.31" cy="261.32" r="4.7" fill="url(#gd)"/>
<circle cx="1064.63" cy="260.41" r="4.7" fill="url(#gd)"/>
<circle cx="1064.98" cy="259.42" r="4.7" fill="url(#gd)"/>
<circle cx="1065.35" cy="258.36" r="4.7" fill="url(#gd)"/>
<circle cx="1065.74" cy="257.23" r="4.7" fill="url(#gd)"/>
<circle cx="1066.16" cy="256.04" r="4.7" fill="url(#gd)"/>
<circle cx="1066.6" cy="254.79" r="4.7" fill="url(#gd)"/>
<circle cx="1067.06" cy="253.48" r="4.7" fill="url(#gd)"/>
<circle cx="1067.54" cy="252.11" r="4.7" fill="url(#gd)"/>
<circle cx="1068.04" cy="250.69" r="4.7" fill="url(#gd)"/>
<circle cx="1068.56" cy="249.21" r="4.7" fill="url(#gd)"/>
<circle cx="1069.09" cy="247.69" r="4.7" fill="url(#gd)"/>
<circle cx="1069.64" cy="246.12" r="4.7" fill="url(#gd)"/>
<circle cx="1070.21" cy="244.5" r="4.7" fill="url(#gd)"/>
<circle cx="1070.8" cy="242.84" r="4.7" fill="url(#gd)"/>
<circle cx="1071.4" cy="241.13" r="4.7" fill="url(#gd)"/>
<circle cx="1072.01" cy="239.37" r="4.7" fill="url(#gd)"/>
<circle cx="1072.64" cy="237.58" r="4.7" fill="url(#gd)"/>
<circle cx="1073.28" cy="235.75" r="4.7" fill="url(#gd)"/>
<circle cx="1073.94" cy="233.87" r="4.7" fill="url(#gd)"/>
<circle cx="1075.5" cy="229.8" r="4.7" fill="url(#gd)"/>
<circle cx="1078.8" cy="223.5" r="4.7" fill="url(#gd)"/>
<circle cx="1082" cy="216.6" r="4.7" fill="url(#gd)"/>
<circle cx="1085.7" cy="207.8" r="4.7" fill="url(#gd)"/>
<circle cx="1090" cy="196.2" r="4.7" fill="url(#gd)"/>
<circle cx="1094.6" cy="182.4" r="4.7" fill="url(#gd)"/>
<circle cx="1100.9" cy="165.9" r="4.7" fill="url(#gd)"/>
<circle cx="1108" cy="145.5" r="4.7" fill="url(#gd)"/>
<circle cx="1115.7" cy="121.9" r="4.7" fill="url(#gd)"/>
<circle cx="1125.2" cy="92" r="4.7" fill="url(#gd)"/>
<circle cx="1136.8" cy="55.8" r="4.7" fill="url(#gd)"/>
</g>
<line x1="917.5" y1="262.5" x2="1241.1" y2="262.5" stroke="#000" stroke-width="1.2"/>
<line x1="917.5" y1="17.5" x2="1241.1" y2="17.5" stroke="#000" stroke-width="1.2"/>
<line x1="1240.6" y1="17.5" x2="1240.6" y2="262.5" stroke="#000" stroke-width="1.1"/>
<line x1="913" y1="262.5" x2="918" y2="262.5" stroke="#000" stroke-width="1.1"/>
<line x1="913" y1="201.25" x2="918" y2="201.25" stroke="#000" stroke-width="1.1"/>
<line x1="913" y1="140" x2="918" y2="140" stroke="#000" stroke-width="1.1"/>
<line x1="913" y1="78.75" x2="918" y2="78.75" stroke="#000" stroke-width="1.1"/>
<line x1="913" y1="17.5" x2="918" y2="17.5" stroke="#000" stroke-width="1.1"/>
<line x1="915.2" y1="231.88" x2="918" y2="231.88" stroke="#000" stroke-width="1"/>
<line x1="915.2" y1="170.62" x2="918" y2="170.62" stroke="#000" stroke-width="1"/>
<line x1="915.2" y1="109.38" x2="918" y2="109.38" stroke="#000" stroke-width="1"/>
<line x1="915.2" y1="48.12" x2="918" y2="48.12" stroke="#000" stroke-width="1"/>
<text x="909.7" y="266.9" font-size="15.4" text-anchor="end">0.0</text>
<text x="909.7" y="205.65" font-size="15.4" text-anchor="end">1.0E2</text>
<text x="909.7" y="144.4" font-size="15.4" text-anchor="end">2.0E2</text>
<text x="909.7" y="83.15" font-size="15.4" text-anchor="end">3.0E2</text>
<text x="909.7" y="21.9" font-size="15.4" text-anchor="end">4.0E2</text>
<line x1="998.65" y1="262.5" x2="998.65" y2="267" stroke="#000" stroke-width="1.1"/>
<line x1="1079.3" y1="262.5" x2="1079.3" y2="267" stroke="#000" stroke-width="1.1"/>
<line x1="1159.95" y1="262.5" x2="1159.95" y2="267" stroke="#000" stroke-width="1.1"/>
<line x1="1240.6" y1="262.5" x2="1240.6" y2="267" stroke="#000" stroke-width="1.1"/>
<text x="998.65" y="283.1" font-size="15.4" text-anchor="middle">1.0E2</text>
<text x="1079.3" y="283.1" font-size="15.4" text-anchor="middle">2.0E2</text>
<text x="1159.95" y="283.1" font-size="15.4" text-anchor="middle">3.0E2</text>
<text x="1240.6" y="283.1" font-size="15.4" text-anchor="middle">4.0E2</text>
<text x="918" y="283.1" font-size="15.4" text-anchor="middle">0.0</text>
<line x1="958.33" y1="262.5" x2="958.33" y2="265.1" stroke="#aaa" stroke-width="1"/>
<line x1="1038.97" y1="262.5" x2="1038.97" y2="265.1" stroke="#aaa" stroke-width="1"/>
<line x1="1119.62" y1="262.5" x2="1119.62" y2="265.1" stroke="#aaa" stroke-width="1"/>
<line x1="1200.27" y1="262.5" x2="1200.27" y2="265.1" stroke="#aaa" stroke-width="1"/>
<text x="1045.8" y="304" font-size="21">Z<tspan font-size="12" dy="6.8">real</tspan><tspan dy="-6.8"> (Ω)</tspan></text>
<text transform="translate(857.2,188) rotate(-90)" font-size="21.5">-Z<tspan font-size="12" dy="6.6">im</tspan><tspan dy="-6.6"> (Ω)</tspan></text>
<text x="836.7" y="29.6" font-size="25.6">(c)</text>
<circle cx="1171.6" cy="75.3" r="4.6" fill="url(#gr)"/>
<text x="1188.8" y="79.2" font-size="15" font-weight="bold" fill="#d00000">70 <tspan font-size="13" dy="-3" dx="0.8">°</tspan><tspan dy="3" dx="0.3">C</tspan></text>
<circle cx="1171.6" cy="97.6" r="4.6" fill="url(#gb)"/>
<text x="1188.8" y="101.5" font-size="15" font-weight="bold" fill="#0000c0">60 <tspan font-size="13" dy="-3" dx="0.8">°</tspan><tspan dy="3" dx="0.3">C</tspan></text>
<circle cx="1171.6" cy="119.9" r="4.6" fill="url(#gm)"/>
<text x="1188.8" y="123.8" font-size="15" font-weight="bold" fill="#e000e0">50 <tspan font-size="13" dy="-3" dx="0.8">°</tspan><tspan dy="3" dx="0.3">C</tspan></text>
<circle cx="1171.6" cy="142.2" r="4.6" fill="url(#gg)"/>
<text x="1188.8" y="146.1" font-size="15" font-weight="bold" fill="#007800">40 <tspan font-size="13" dy="-3" dx="0.8">°</tspan><tspan dy="3" dx="0.3">C</tspan></text>
<circle cx="1171.6" cy="164.5" r="4.6" fill="url(#gd)"/>
<text x="1188.8" y="168.4" font-size="15" font-weight="bold" fill="#700000">30 <tspan font-size="13" dy="-3" dx="0.8">°</tspan><tspan dy="3" dx="0.3">C</tspan></text>
<text x="1124" y="207.9" font-size="15.3">PBG1</text>
<text x="1124" y="227.5" font-size="15.3">t = 0.04 cm</text>
<text x="1124" y="248.3" font-size="15.3">s = 0.785 cm<tspan font-size="9" dy="-7">2</tspan></text>
<line x1="122.5" y1="347.4" x2="122.5" y2="592.5" stroke="#555" stroke-width="1" stroke-dasharray="3.5 2.4"/>
<line x1="187.5" y1="347.4" x2="187.5" y2="592.5" stroke="#555" stroke-width="1" stroke-dasharray="3.5 2.4"/>
<line x1="251.7" y1="347.4" x2="251.7" y2="592.5" stroke="#8a8a8a" stroke-width="1" stroke-dasharray="3.5 2.4"/>
<line x1="316.5" y1="347.4" x2="316.5" y2="592.5" stroke="#5c5c5c" stroke-width="1" stroke-dasharray="3.5 2.4"/>
<line x1="381.2" y1="347.4" x2="381.2" y2="592.5" stroke="#909090" stroke-width="1" stroke-dasharray="3.5 2.4"/>
<line x1="91.6" y1="408.1" x2="413.3" y2="408.1" stroke="#8c8c8c" stroke-width="1" stroke-dasharray="3.5 2.4"/>
<line x1="91.6" y1="469.5" x2="413.3" y2="469.5" stroke="#4a4a4a" stroke-width="1" stroke-dasharray="3.5 2.4"/>
<line x1="91.6" y1="531.2" x2="413.3" y2="531.2" stroke="#7a7a7a" stroke-width="1" stroke-dasharray="3.5 2.4"/>
<circle cx="122.6" cy="480" r="4.1" fill="url(#gy)"/>
<circle cx="187" cy="488.3" r="4.1" fill="url(#gy)"/>
<circle cx="251.7" cy="503.6" r="4.1" fill="url(#gy)"/>
<circle cx="316.4" cy="522.2" r="4.1" fill="url(#gy)"/>
<circle cx="381.1" cy="542.5" r="4.1" fill="url(#gy)"/>
<circle cx="122.6" cy="398.5" r="4.1" fill="url(#gu)"/>
<circle cx="187" cy="414.3" r="4.1" fill="url(#gu)"/>
<circle cx="251.7" cy="427.8" r="4.1" fill="url(#gu)"/>
<circle cx="316.4" cy="441.7" r="4.1" fill="url(#gu)"/>
<circle cx="381.1" cy="470.3" r="4.1" fill="url(#gu)"/>
<circle cx="122.6" cy="396.7" r="4.1" fill="url(#go)"/>
<circle cx="187" cy="405.6" r="4.1" fill="url(#go)"/>
<circle cx="251.7" cy="412.8" r="4.1" fill="url(#go)"/>
<circle cx="316.4" cy="425.8" r="4.1" fill="url(#go)"/>
<circle cx="381.1" cy="441.1" r="4.1" fill="url(#go)"/>
<line x1="90.6" y1="346.4" x2="90.6" y2="593" stroke="#000" stroke-width="1.1"/>
<line x1="90.1" y1="592.5" x2="413.8" y2="592.5" stroke="#111" stroke-width="1.2"/>
<line x1="90.1" y1="346.4" x2="413.8" y2="346.4" stroke="#111" stroke-width="1.2"/>
<line x1="413.3" y1="346.4" x2="413.3" y2="592.5" stroke="#000" stroke-width="1.1"/>
<line x1="85.6" y1="346.4" x2="90.6" y2="346.4" stroke="#000" stroke-width="1.1"/>
<line x1="85.6" y1="407.92" x2="90.6" y2="407.92" stroke="#000" stroke-width="1.1"/>
<line x1="85.6" y1="469.45" x2="90.6" y2="469.45" stroke="#000" stroke-width="1.1"/>
<line x1="85.6" y1="530.98" x2="90.6" y2="530.98" stroke="#000" stroke-width="1.1"/>
<line x1="85.6" y1="592.5" x2="90.6" y2="592.5" stroke="#000" stroke-width="1.1"/>
<line x1="88.1" y1="389.4" x2="90.6" y2="389.4" stroke="#000" stroke-width="1"/>
<line x1="88.1" y1="378.57" x2="90.6" y2="378.57" stroke="#000" stroke-width="1"/>
<line x1="88.1" y1="370.88" x2="90.6" y2="370.88" stroke="#000" stroke-width="1"/>
<line x1="88.1" y1="364.92" x2="90.6" y2="364.92" stroke="#000" stroke-width="1"/>
<line x1="88.1" y1="360.05" x2="90.6" y2="360.05" stroke="#000" stroke-width="1"/>
<line x1="88.1" y1="355.93" x2="90.6" y2="355.93" stroke="#000" stroke-width="1"/>
<line x1="88.1" y1="352.36" x2="90.6" y2="352.36" stroke="#000" stroke-width="1"/>
<line x1="88.1" y1="349.22" x2="90.6" y2="349.22" stroke="#000" stroke-width="1"/>
<line x1="88.1" y1="450.93" x2="90.6" y2="450.93" stroke="#000" stroke-width="1"/>
<line x1="88.1" y1="440.1" x2="90.6" y2="440.1" stroke="#000" stroke-width="1"/>
<line x1="88.1" y1="432.41" x2="90.6" y2="432.41" stroke="#000" stroke-width="1"/>
<line x1="88.1" y1="426.45" x2="90.6" y2="426.45" stroke="#000" stroke-width="1"/>
<line x1="88.1" y1="421.57" x2="90.6" y2="421.57" stroke="#000" stroke-width="1"/>
<line x1="88.1" y1="417.46" x2="90.6" y2="417.46" stroke="#000" stroke-width="1"/>
<line x1="88.1" y1="413.89" x2="90.6" y2="413.89" stroke="#000" stroke-width="1"/>
<line x1="88.1" y1="410.74" x2="90.6" y2="410.74" stroke="#000" stroke-width="1"/>
<line x1="88.1" y1="512.45" x2="90.6" y2="512.45" stroke="#000" stroke-width="1"/>
<line x1="88.1" y1="501.62" x2="90.6" y2="501.62" stroke="#000" stroke-width="1"/>
<line x1="88.1" y1="493.93" x2="90.6" y2="493.93" stroke="#000" stroke-width="1"/>
<line x1="88.1" y1="487.97" x2="90.6" y2="487.97" stroke="#000" stroke-width="1"/>
<line x1="88.1" y1="483.1" x2="90.6" y2="483.1" stroke="#000" stroke-width="1"/>
<line x1="88.1" y1="478.98" x2="90.6" y2="478.98" stroke="#000" stroke-width="1"/>
<line x1="88.1" y1="475.41" x2="90.6" y2="475.41" stroke="#000" stroke-width="1"/>
<line x1="88.1" y1="472.27" x2="90.6" y2="472.27" stroke="#000" stroke-width="1"/>
<line x1="88.1" y1="573.98" x2="90.6" y2="573.98" stroke="#000" stroke-width="1"/>
<line x1="88.1" y1="563.15" x2="90.6" y2="563.15" stroke="#000" stroke-width="1"/>
<line x1="88.1" y1="555.46" x2="90.6" y2="555.46" stroke="#000" stroke-width="1"/>
<line x1="88.1" y1="549.5" x2="90.6" y2="549.5" stroke="#000" stroke-width="1"/>
<line x1="88.1" y1="544.62" x2="90.6" y2="544.62" stroke="#000" stroke-width="1"/>
<line x1="88.1" y1="540.51" x2="90.6" y2="540.51" stroke="#000" stroke-width="1"/>
<line x1="88.1" y1="536.94" x2="90.6" y2="536.94" stroke="#000" stroke-width="1"/>
<line x1="88.1" y1="533.79" x2="90.6" y2="533.79" stroke="#000" stroke-width="1"/>
<text x="82" y="350.9" font-size="15.4" text-anchor="end">1E-02</text>
<text x="82" y="412.42" font-size="15.4" text-anchor="end">1<tspan font-weight="bold">E</tspan>-03</text>
<text x="82" y="473.95" font-size="15.4" text-anchor="end">1E-04</text>
<text x="82" y="535.48" font-size="15.4" text-anchor="end">1<tspan font-weight="bold">E</tspan>-05</text>
<text x="82" y="597" font-size="15.4" text-anchor="end">1E-06</text>
<line x1="122.87" y1="592.5" x2="122.87" y2="597" stroke="#000" stroke-width="1.1"/>
<line x1="187.41" y1="592.5" x2="187.41" y2="597" stroke="#000" stroke-width="1.1"/>
<line x1="251.95" y1="592.5" x2="251.95" y2="597" stroke="#000" stroke-width="1.1"/>
<line x1="316.49" y1="592.5" x2="316.49" y2="597" stroke="#000" stroke-width="1.1"/>
<line x1="381.03" y1="592.5" x2="381.03" y2="597" stroke="#000" stroke-width="1.1"/>
<line x1="90.6" y1="592.5" x2="90.6" y2="595.1" stroke="#000" stroke-width="1"/>
<line x1="155.14" y1="592.5" x2="155.14" y2="595.1" stroke="#000" stroke-width="1"/>
<line x1="219.68" y1="592.5" x2="219.68" y2="595.1" stroke="#000" stroke-width="1"/>
<line x1="284.22" y1="592.5" x2="284.22" y2="595.1" stroke="#000" stroke-width="1"/>
<line x1="348.76" y1="592.5" x2="348.76" y2="595.1" stroke="#000" stroke-width="1"/>
<line x1="413.3" y1="592.5" x2="413.3" y2="595.1" stroke="#000" stroke-width="1"/>
<text x="122.87" y="612.7" font-size="15.4" text-anchor="middle">70</text>
<text x="187.41" y="612.7" font-size="15.4" text-anchor="middle">60</text>
<text x="251.95" y="612.7" font-size="15.4" text-anchor="middle">50</text>
<text x="316.49" y="612.7" font-size="15.4" text-anchor="middle">40</text>
<text x="381.03" y="612.7" font-size="15.4" text-anchor="middle">30</text>
<text transform="translate(31,522) rotate(-90)" font-size="21">σ (S/cm)</text>
<text x="175" y="636.6" font-size="20.3">Temperature (<tspan dx="1.2" font-size="18" font-family="'Liberation Sans','Noto Serif CJK SC',serif">℃</tspan><tspan dx="2.2">)</tspan></text>
<text x="6.3" y="360" font-size="25.6">(d)</text>
<circle cx="121.6" cy="517.5" r="4.1" fill="url(#go)"/>
<text x="137.3" y="520.8" font-size="12.8" font-weight="bold" fill="#e6801e">PBG1</text>
<circle cx="121.6" cy="537.35" r="4.1" fill="url(#gu)"/>
<text x="137.3" y="540.65" font-size="12.8" font-weight="bold" fill="#1a72d8">PBG2</text>
<circle cx="121.6" cy="557.2" r="4.1" fill="url(#gy)"/>
<text x="137.3" y="560.5" font-size="12.8" font-weight="bold" fill="#737373">PBG0</text>
<line x1="504.3" y1="350" x2="504.3" y2="598.4" stroke="#000" stroke-width="1.1"/>
<line x1="503.8" y1="595.6" x2="827.8" y2="595.6" stroke="#777" stroke-width="1.2"/>
<line x1="827.3" y1="350" x2="827.3" y2="598.4" stroke="#666" stroke-width="1.1"/>
<line x1="499.3" y1="411.4" x2="504.3" y2="411.4" stroke="#000" stroke-width="1.1"/>
<line x1="499.3" y1="472.8" x2="504.3" y2="472.8" stroke="#000" stroke-width="1.1"/>
<line x1="499.3" y1="534.2" x2="504.3" y2="534.2" stroke="#000" stroke-width="1.1"/>
<line x1="499.3" y1="595.6" x2="504.3" y2="595.6" stroke="#000" stroke-width="1.1"/>
<line x1="501.5" y1="380.7" x2="504.3" y2="380.7" stroke="#000" stroke-width="1"/>
<line x1="501.5" y1="442.1" x2="504.3" y2="442.1" stroke="#000" stroke-width="1"/>
<line x1="501.5" y1="503.5" x2="504.3" y2="503.5" stroke="#000" stroke-width="1"/>
<line x1="501.5" y1="564.9" x2="504.3" y2="564.9" stroke="#000" stroke-width="1"/>
<text x="495.5" y="416.1" font-size="15.4" text-anchor="end">-2.0</text>
<text x="495.5" y="477.5" font-size="15.4" text-anchor="end">-4.0</text>
<text x="495.5" y="538.9" font-size="15.4" text-anchor="end">-6.0</text>
<text x="495.5" y="600.3" font-size="15.4" text-anchor="end">-8.0</text>
<text x="495.5" y="354.7" font-size="15.3" text-anchor="end">0.0</text>
<line x1="536.5" y1="595.6" x2="536.5" y2="600.1" stroke="#000" stroke-width="1.1"/>
<line x1="601.3" y1="595.6" x2="601.3" y2="600.1" stroke="#000" stroke-width="1.1"/>
<line x1="666.1" y1="595.6" x2="666.1" y2="600.1" stroke="#000" stroke-width="1.1"/>
<line x1="730.9" y1="595.6" x2="730.9" y2="600.1" stroke="#000" stroke-width="1.1"/>
<line x1="568.9" y1="595.6" x2="568.9" y2="598.2" stroke="#000" stroke-width="1"/>
<line x1="633.7" y1="595.6" x2="633.7" y2="598.2" stroke="#000" stroke-width="1"/>
<line x1="698.5" y1="595.6" x2="698.5" y2="598.2" stroke="#000" stroke-width="1"/>
<line x1="763.3" y1="595.6" x2="763.3" y2="598.2" stroke="#000" stroke-width="1"/>
<text x="536.5" y="616.3" font-size="15.4" text-anchor="middle">2.9</text>
<text x="601.3" y="616.3" font-size="15.4" text-anchor="middle">3.0</text>
<text x="666.1" y="616.3" font-size="15.4" text-anchor="middle">3.1</text>
<text x="730.9" y="616.3" font-size="15.4" text-anchor="middle">3.2</text>
<text x="795.7" y="616.3" font-size="15.3" text-anchor="middle">3.3</text>
<line x1="545.8" y1="368.1" x2="793.9" y2="423.7" stroke="#ea8a26" stroke-width="1.9"/>
<line x1="545.8" y1="370.7" x2="793.9" y2="453.9" stroke="#2a76d0" stroke-width="1.15"/>
<line x1="545.8" y1="461.7" x2="793.9" y2="538.4" stroke="#6c6c6c" stroke-width="1.15"/>
<circle cx="545.8" cy="465.6" r="4.1" fill="url(#gy)"/>
<circle cx="602.7" cy="476" r="4.1" fill="url(#gy)"/>
<circle cx="662" cy="495" r="4.1" fill="url(#gy)"/>
<circle cx="726.3" cy="516.8" r="4.1" fill="url(#gy)"/>
<circle cx="793.9" cy="541.5" r="4.1" fill="url(#gy)"/>
<circle cx="545.8" cy="371.7" r="4.1" fill="url(#gu)"/>
<circle cx="602.7" cy="390.7" r="4.1" fill="url(#gu)"/>
<circle cx="662" cy="406.8" r="4.1" fill="url(#gu)"/>
<circle cx="726.3" cy="424.5" r="4.1" fill="url(#gu)"/>
<circle cx="793.9" cy="458.3" r="4.1" fill="url(#gu)"/>
<circle cx="545.8" cy="369.1" r="4.1" fill="url(#go)"/>
<circle cx="602.7" cy="380.8" r="4.1" fill="url(#go)"/>
<circle cx="662" cy="389.9" r="4.1" fill="url(#go)"/>
<circle cx="726.3" cy="406.3" r="4.1" fill="url(#go)"/>
<circle cx="793.9" cy="425" r="4.1" fill="url(#go)"/>
<text x="697" y="375.9" font-size="15.5" font-weight="bold" fill="#e6801e">E<tspan font-size="9.5" dy="4.4">a, PBG1</tspan><tspan dy="-4.4">=0.40 eV</tspan></text>
<text x="635.8" y="454.4" font-size="15.5" font-weight="bold" fill="#1a72d8">E<tspan font-size="9.5" dy="4.4">a, PBG2</tspan><tspan dy="-4.4">=0.61 eV</tspan></text>
<text x="591.6" y="531.1" font-size="15.5" font-weight="bold" fill="#737373">E<tspan font-size="9.5" dy="4.4">a, PBG0</tspan><tspan dy="-4.4">=0.56 eV</tspan></text>
<circle cx="524.7" cy="502" r="4.1" fill="url(#go)"/>
<text x="537.2" y="505.8" font-size="15" font-weight="bold" fill="#e6801e">PBG1</text>
<circle cx="524.7" cy="521.8" r="4.1" fill="url(#gu)"/>
<text x="537.2" y="525.6" font-size="15" font-weight="bold" fill="#1a72d8">PBG2</text>
<circle cx="524.7" cy="542.3" r="4.1" fill="url(#gy)"/>
<text x="537.2" y="546.1" font-size="15" font-weight="bold" fill="#737373">PBG0</text>
<text transform="translate(459.1,558.3) rotate(-90)" font-size="20.5">ln (σT) (S K/cm)</text>
<text x="625.4" y="641.7" font-size="20.2">1000/T/K</text>
<text x="420.2" y="363.5" font-size="25.6">(e)</text>
<g clip-path="url(#cF)">
<circle cx="921.4" cy="399.8" r="4.5" fill="url(#gu)"/>
<circle cx="921.4" cy="434.8" r="4.5" fill="url(#gu)"/>
<circle cx="921.5" cy="454.4" r="4.5" fill="url(#gu)"/>
<circle cx="921.6" cy="468.9" r="4.5" fill="url(#gu)"/>
<circle cx="921.7" cy="478.8" r="4.5" fill="url(#gu)"/>
<circle cx="921.7" cy="485.8" r="4.5" fill="url(#gu)"/>
<circle cx="921.7" cy="491.96" r="4.5" fill="url(#gu)"/>
<circle cx="921.7" cy="497.38" r="4.5" fill="url(#gu)"/>
<circle cx="921.78" cy="502.15" r="4.5" fill="url(#gu)"/>
<circle cx="921.92" cy="506.35" r="4.5" fill="url(#gu)"/>
<circle cx="922.05" cy="510.04" r="4.5" fill="url(#gu)"/>
<circle cx="922.17" cy="513.29" r="4.5" fill="url(#gu)"/>
<circle cx="922.27" cy="516.15" r="4.5" fill="url(#gu)"/>
<circle cx="922.35" cy="518.67" r="4.5" fill="url(#gu)"/>
<circle cx="922.43" cy="520.89" r="4.5" fill="url(#gu)"/>
<circle cx="922.5" cy="522.84" r="4.5" fill="url(#gu)"/>
<circle cx="922.56" cy="524.55" r="4.5" fill="url(#gu)"/>
<circle cx="922.61" cy="526.06" r="4.5" fill="url(#gu)"/>
<circle cx="922.66" cy="527.39" r="4.5" fill="url(#gu)"/>
<circle cx="922.7" cy="528.56" r="4.5" fill="url(#gu)"/>
<circle cx="922.74" cy="529.59" r="4.5" fill="url(#gu)"/>
<circle cx="922.77" cy="530.49" r="4.5" fill="url(#gu)"/>
<circle cx="922.8" cy="531.29" r="4.5" fill="url(#gu)"/>
<circle cx="922.82" cy="531.99" r="4.5" fill="url(#gu)"/>
<circle cx="922.84" cy="532.69" r="4.5" fill="url(#gu)"/>
<circle cx="922.87" cy="533.39" r="4.5" fill="url(#gu)"/>
<circle cx="922.89" cy="534.09" r="4.5" fill="url(#gu)"/>
<circle cx="922.92" cy="534.79" r="4.5" fill="url(#gu)"/>
<circle cx="922.94" cy="535.49" r="4.5" fill="url(#gu)"/>
<circle cx="922.97" cy="536.19" r="4.5" fill="url(#gu)"/>
<circle cx="922.99" cy="536.89" r="4.5" fill="url(#gu)"/>
<circle cx="923.02" cy="537.59" r="4.5" fill="url(#gu)"/>
<circle cx="923.04" cy="538.29" r="4.5" fill="url(#gu)"/>
<circle cx="923.06" cy="538.99" r="4.5" fill="url(#gu)"/>
<circle cx="923.09" cy="539.69" r="4.5" fill="url(#gu)"/>
<circle cx="923.11" cy="540.39" r="4.5" fill="url(#gu)"/>
<circle cx="923.14" cy="541.09" r="4.5" fill="url(#gu)"/>
<circle cx="923.16" cy="541.79" r="4.5" fill="url(#gu)"/>
<circle cx="923.19" cy="542.49" r="4.5" fill="url(#gu)"/>
<circle cx="923.21" cy="543.19" r="4.5" fill="url(#gu)"/>
<circle cx="923.24" cy="543.89" r="4.5" fill="url(#gu)"/>
<circle cx="923.26" cy="544.59" r="4.5" fill="url(#gu)"/>
<circle cx="923.29" cy="545.29" r="4.5" fill="url(#gu)"/>
<circle cx="923.31" cy="545.99" r="4.5" fill="url(#gu)"/>
<circle cx="923.33" cy="546.69" r="4.5" fill="url(#gu)"/>
<path d="M922.6,532 L923.2,540 L924,552 L925.5,558 L928,562.5 L932,566.3 L937,568.8 L942,570.2 L946.5,571.1 L955,572 L965.4,572.7 L984.4,573.6 L1009.6,574.5 L1028.5,575.3 L1047.4,576 L1063.8,576.5 L1068,575.6 L1072.6,575.4 L1085.2,575.7 L1091.5,577.3 L1123,577.7 L1140,578.1 L1160.9,578.5 L1172,578.6 L1179.8,578 L1190,578.6 L1203.6,578.6" fill="none" stroke="#1266d6" stroke-width="8.6" stroke-linecap="round" stroke-linejoin="round"/>
<path d="M922.6,532 L923.2,540 L924,552 L925.5,558 L928,562.5 L932,566.3 L937,568.8 L942,570.2 L946.5,571.1 L955,572 L965.4,572.7 L984.4,573.6 L1009.6,574.5 L1028.5,575.3 L1047.4,576 L1063.8,576.5 L1068,575.6 L1072.6,575.4 L1085.2,575.7 L1091.5,577.3 L1123,577.7 L1140,578.1 L1160.9,578.5 L1172,578.6 L1179.8,578 L1190,578.6 L1203.6,578.6" fill="none" stroke="#1a7aec" stroke-width="7.4" stroke-linecap="round" stroke-linejoin="round"/>
<circle cx="1203.6" cy="578.6" r="4.4" fill="url(#gu)"/>
</g>
<line x1="917.5" y1="349.4" x2="917.5" y2="593.7" stroke="#000" stroke-width="1.1"/>
<line x1="917" y1="593.2" x2="1236.9" y2="593.2" stroke="#777" stroke-width="1.2"/>
<line x1="917" y1="349.4" x2="1236.9" y2="349.4" stroke="#222" stroke-width="1.2"/>
<line x1="1236.4" y1="349.4" x2="1236.4" y2="593.2" stroke="#000" stroke-width="1.1"/>
<line x1="912.5" y1="593.2" x2="917.5" y2="593.2" stroke="#000" stroke-width="1.1"/>
<line x1="912.5" y1="544.44" x2="917.5" y2="544.44" stroke="#000" stroke-width="1.1"/>
<line x1="912.5" y1="495.68" x2="917.5" y2="495.68" stroke="#000" stroke-width="1.1"/>
<line x1="912.5" y1="446.92" x2="917.5" y2="446.92" stroke="#000" stroke-width="1.1"/>
<line x1="912.5" y1="398.16" x2="917.5" y2="398.16" stroke="#000" stroke-width="1.1"/>
<line x1="912.5" y1="349.4" x2="917.5" y2="349.4" stroke="#000" stroke-width="1.1"/>
<line x1="914.7" y1="568.82" x2="917.5" y2="568.82" stroke="#000" stroke-width="1"/>
<line x1="914.7" y1="520.06" x2="917.5" y2="520.06" stroke="#000" stroke-width="1"/>
<line x1="914.7" y1="471.3" x2="917.5" y2="471.3" stroke="#000" stroke-width="1"/>
<line x1="914.7" y1="422.54" x2="917.5" y2="422.54" stroke="#000" stroke-width="1"/>
<line x1="914.7" y1="373.78" x2="917.5" y2="373.78" stroke="#000" stroke-width="1"/>
<text x="908.9" y="597.7" font-size="15.4" text-anchor="end">0</text>
<text x="908.9" y="548.94" font-size="15.4" text-anchor="end">10</text>
<text x="908.9" y="500.18" font-size="15.4" text-anchor="end">20</text>
<text x="908.9" y="451.42" font-size="15.4" text-anchor="end">30</text>
<text x="908.9" y="402.66" font-size="15.4" text-anchor="end">40</text>
<text x="908.9" y="353.9" font-size="15.4" text-anchor="end">50</text>
<line x1="920.8" y1="593.2" x2="920.8" y2="597.7" stroke="#000" stroke-width="1.1"/>
<line x1="999.7" y1="593.2" x2="999.7" y2="597.7" stroke="#000" stroke-width="1.1"/>
<line x1="1078.6" y1="593.2" x2="1078.6" y2="597.7" stroke="#000" stroke-width="1.1"/>
<line x1="1157.5" y1="593.2" x2="1157.5" y2="597.7" stroke="#000" stroke-width="1.1"/>
<line x1="1236.4" y1="593.2" x2="1236.4" y2="597.7" stroke="#000" stroke-width="1.1"/>
<line x1="960.25" y1="593.2" x2="960.25" y2="595.8" stroke="#000" stroke-width="1"/>
<line x1="1039.15" y1="593.2" x2="1039.15" y2="595.8" stroke="#000" stroke-width="1"/>
<line x1="1118.05" y1="593.2" x2="1118.05" y2="595.8" stroke="#000" stroke-width="1"/>
<line x1="1196.95" y1="593.2" x2="1196.95" y2="595.8" stroke="#000" stroke-width="1"/>
<text x="920.8" y="613.4" font-size="15.4" text-anchor="middle">0</text>
<text x="999.7" y="613.4" font-size="15.4" text-anchor="middle">2000</text>
<text x="1078.6" y="613.4" font-size="15.4" text-anchor="middle">4000</text>
<text x="1157.5" y="613.4" font-size="15.4" text-anchor="middle">6000</text>
<text x="1236.4" y="613.4" font-size="15.4" text-anchor="middle">8000</text>
<text transform="translate(882.5,541.5) rotate(-90)" font-size="21">Current (μA)</text>
<text x="1041.3" y="635.4" font-size="20.2">Time (s)</text>
<text x="841.3" y="362.8" font-size="25.6">(f)</text>
<text x="955.7" y="387.5" font-size="15.7">SS|PBG1|SS</text>
<text x="955.7" y="406.3" font-size="15.3">t = 0.04 cm</text>
<text x="955.7" y="427.6" font-size="15.3">s = 0.785 cm<tspan font-size="9" dy="-7">2</tspan></text>
<text x="955.7" y="446.9" font-size="14.4">I<tspan font-size="7.5" dy="5.8">s</tspan><tspan dy="-5.8"> = 2.88 μA</tspan></text>
<text x="1074" y="405.9" font-size="15.5">R<tspan font-size="9" dy="5.5">e</tspan><tspan dy="-5.5"> = 347222 Ω</tspan></text>
<text x="1074" y="432.1" font-size="15.6">σ<tspan font-size="9" dy="5.5">e</tspan><tspan dy="-5.5"> = 1.47 x 10</tspan><tspan font-size="9" dy="-7">-7</tspan><tspan dy="7"> S/cm</tspan></text>
</svg>
</body></html>
